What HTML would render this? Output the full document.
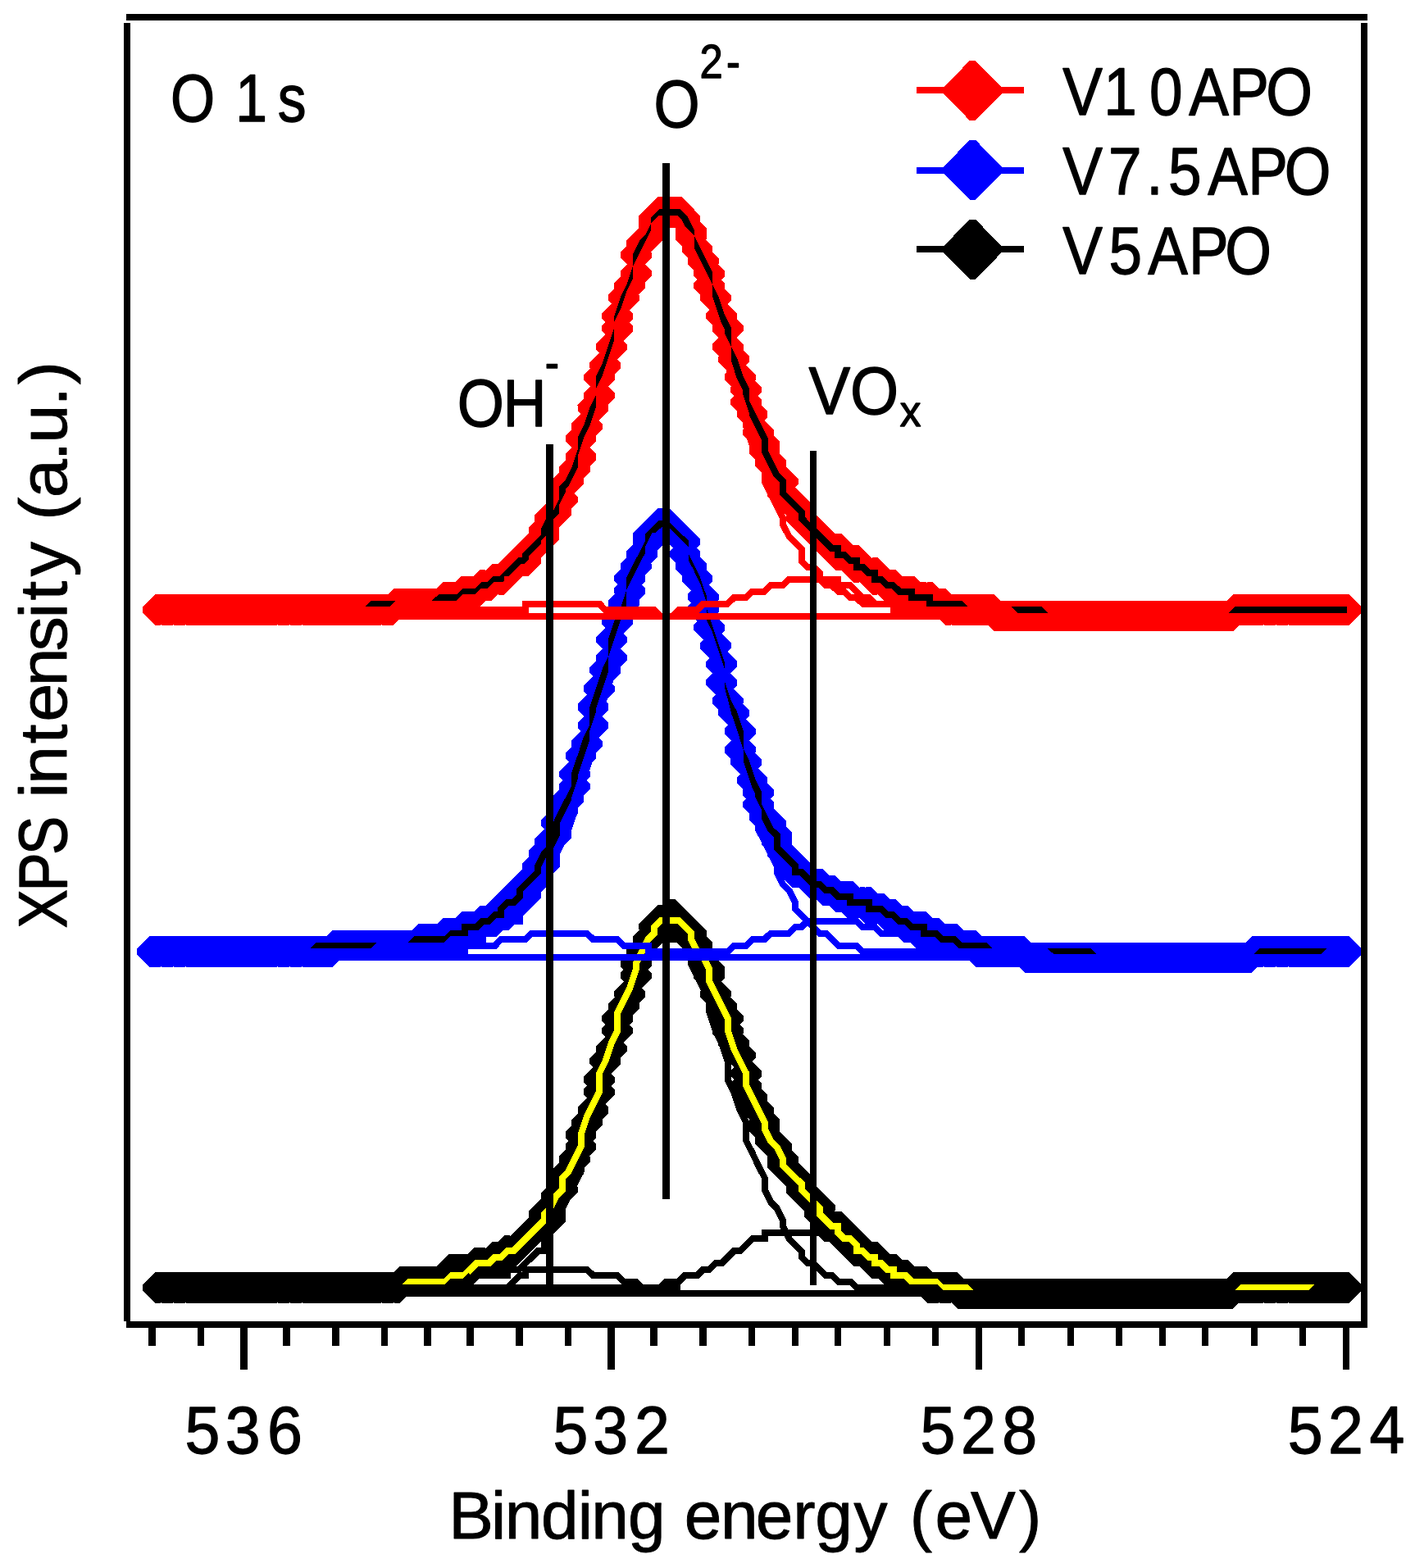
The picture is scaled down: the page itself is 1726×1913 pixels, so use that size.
<!DOCTYPE html>
<html lang="en"><head><meta charset="utf-8"><title>O 1s XPS spectra</title>
<style>html,body{margin:0;padding:0;background:#fff;width:1726px;height:1913px;overflow:hidden}svg{display:block}text{font-family:"Liberation Sans",sans-serif;fill:#000}</style></head>
<body>
<svg width="1726" height="1913" viewBox="0 0 1726 1913">
<rect width="1726" height="1913" fill="#fff"/>
<g shape-rendering="crispEdges">
<g>
<path d="M173.9 1567.7l15.6 -15.6h6.6l15.6 15.6v6.6l-15.6 15.6h-6.6l-15.6 -15.6zM181.4 1567.7l15.6 -15.6h6.6l15.6 15.6v6.6l-15.6 15.6h-6.6l-15.6 -15.6zM181.4 1567.7l15.6 -15.6h6.6l15.6 15.6v6.6l-15.6 15.6h-6.6l-15.6 -15.6zM188.9 1567.7l15.6 -15.6h6.6l15.6 15.6v6.6l-15.6 15.6h-6.6l-15.6 -15.6zM196.4 1567.7l15.6 -15.6h6.6l15.6 15.6v6.6l-15.6 15.6h-6.6l-15.6 -15.6zM203.8 1567.7l15.6 -15.6h6.6l15.6 15.6v6.6l-15.6 15.6h-6.6l-15.6 -15.6zM203.8 1567.7l15.6 -15.6h6.6l15.6 15.6v6.6l-15.6 15.6h-6.6l-15.6 -15.6zM211.3 1567.7l15.6 -15.6h6.6l15.6 15.6v6.6l-15.6 15.6h-6.6l-15.6 -15.6zM218.8 1567.7l15.6 -15.6h6.6l15.6 15.6v6.6l-15.6 15.6h-6.6l-15.6 -15.6zM226.2 1567.7l15.6 -15.6h6.6l15.6 15.6v6.6l-15.6 15.6h-6.6l-15.6 -15.6zM226.2 1567.7l15.6 -15.6h6.6l15.6 15.6v6.6l-15.6 15.6h-6.6l-15.6 -15.6zM233.7 1567.7l15.6 -15.6h6.6l15.6 15.6v6.6l-15.6 15.6h-6.6l-15.6 -15.6zM241.2 1567.7l15.6 -15.6h6.6l15.6 15.6v6.6l-15.6 15.6h-6.6l-15.6 -15.6zM248.7 1567.7l15.6 -15.6h6.6l15.6 15.6v6.6l-15.6 15.6h-6.6l-15.6 -15.6zM248.7 1567.7l15.6 -15.6h6.6l15.6 15.6v6.6l-15.6 15.6h-6.6l-15.6 -15.6zM256.1 1567.7l15.6 -15.6h6.6l15.6 15.6v6.6l-15.6 15.6h-6.6l-15.6 -15.6zM263.6 1567.7l15.6 -15.6h6.6l15.6 15.6v6.6l-15.6 15.6h-6.6l-15.6 -15.6zM271.1 1567.7l15.6 -15.6h6.6l15.6 15.6v6.6l-15.6 15.6h-6.6l-15.6 -15.6zM271.1 1567.7l15.6 -15.6h6.6l15.6 15.6v6.6l-15.6 15.6h-6.6l-15.6 -15.6zM278.6 1567.7l15.6 -15.6h6.6l15.6 15.6v6.6l-15.6 15.6h-6.6l-15.6 -15.6zM286 1567.7l15.6 -15.6h6.6l15.6 15.6v6.6l-15.6 15.6h-6.6l-15.6 -15.6zM286 1567.7l15.6 -15.6h6.6l15.6 15.6v6.6l-15.6 15.6h-6.6l-15.6 -15.6zM293.5 1567.7l15.6 -15.6h6.6l15.6 15.6v6.6l-15.6 15.6h-6.6l-15.6 -15.6zM301 1567.7l15.6 -15.6h6.6l15.6 15.6v6.6l-15.6 15.6h-6.6l-15.6 -15.6zM308.4 1567.7l15.6 -15.6h6.6l15.6 15.6v6.6l-15.6 15.6h-6.6l-15.6 -15.6zM308.4 1567.7l15.6 -15.6h6.6l15.6 15.6v6.6l-15.6 15.6h-6.6l-15.6 -15.6zM315.9 1567.7l15.6 -15.6h6.6l15.6 15.6v6.6l-15.6 15.6h-6.6l-15.6 -15.6zM323.4 1567.7l15.6 -15.6h6.6l15.6 15.6v6.6l-15.6 15.6h-6.6l-15.6 -15.6zM330.9 1567.7l15.6 -15.6h6.6l15.6 15.6v6.6l-15.6 15.6h-6.6l-15.6 -15.6zM330.9 1567.7l15.6 -15.6h6.6l15.6 15.6v6.6l-15.6 15.6h-6.6l-15.6 -15.6zM338.3 1567.7l15.6 -15.6h6.6l15.6 15.6v6.6l-15.6 15.6h-6.6l-15.6 -15.6zM345.8 1567.7l15.6 -15.6h6.6l15.6 15.6v6.6l-15.6 15.6h-6.6l-15.6 -15.6zM353.3 1567.7l15.6 -15.6h6.6l15.6 15.6v6.6l-15.6 15.6h-6.6l-15.6 -15.6zM353.3 1567.7l15.6 -15.6h6.6l15.6 15.6v6.6l-15.6 15.6h-6.6l-15.6 -15.6zM360.7 1567.7l15.6 -15.6h6.6l15.6 15.6v6.6l-15.6 15.6h-6.6l-15.6 -15.6zM368.2 1567.7l15.6 -15.6h6.6l15.6 15.6v6.6l-15.6 15.6h-6.6l-15.6 -15.6zM375.7 1567.7l15.6 -15.6h6.6l15.6 15.6v6.6l-15.6 15.6h-6.6l-15.6 -15.6zM375.7 1567.7l15.6 -15.6h6.6l15.6 15.6v6.6l-15.6 15.6h-6.6l-15.6 -15.6zM383.2 1567.7l15.6 -15.6h6.6l15.6 15.6v6.6l-15.6 15.6h-6.6l-15.6 -15.6zM390.6 1567.7l15.6 -15.6h6.6l15.6 15.6v6.6l-15.6 15.6h-6.6l-15.6 -15.6zM398.1 1567.7l15.6 -15.6h6.6l15.6 15.6v6.6l-15.6 15.6h-6.6l-15.6 -15.6zM398.1 1567.7l15.6 -15.6h6.6l15.6 15.6v6.6l-15.6 15.6h-6.6l-15.6 -15.6zM405.6 1567.7l15.6 -15.6h6.6l15.6 15.6v6.6l-15.6 15.6h-6.6l-15.6 -15.6zM413 1567.7l15.6 -15.6h6.6l15.6 15.6v6.6l-15.6 15.6h-6.6l-15.6 -15.6zM420.5 1567.7l15.6 -15.6h6.6l15.6 15.6v6.6l-15.6 15.6h-6.6l-15.6 -15.6zM420.5 1567.7l15.6 -15.6h6.6l15.6 15.6v6.6l-15.6 15.6h-6.6l-15.6 -15.6zM428 1567.7l15.6 -15.6h6.6l15.6 15.6v6.6l-15.6 15.6h-6.6l-15.6 -15.6zM435.5 1567.7l15.6 -15.6h6.6l15.6 15.6v6.6l-15.6 15.6h-6.6l-15.6 -15.6zM442.9 1567.7l15.6 -15.6h6.6l15.6 15.6v6.6l-15.6 15.6h-6.6l-15.6 -15.6zM442.9 1567.7l15.6 -15.6h6.6l15.6 15.6v6.6l-15.6 15.6h-6.6l-15.6 -15.6zM450.4 1567.7l15.6 -15.6h6.6l15.6 15.6v6.6l-15.6 15.6h-6.6l-15.6 -15.6zM457.9 1567.7l15.6 -15.6h6.6l15.6 15.6v6.6l-15.6 15.6h-6.6l-15.6 -15.6zM465.4 1567.7l15.6 -15.6h6.6l15.6 15.6v6.6l-15.6 15.6h-6.6l-15.6 -15.6zM465.4 1567.7l15.6 -15.6h6.6l15.6 15.6v6.6l-15.6 15.6h-6.6l-15.6 -15.6zM472.8 1560.2l15.6 -15.6h6.6l15.6 15.6v6.6l-15.6 15.6h-6.6l-15.6 -15.6zM480.3 1560.2l15.6 -15.6h6.6l15.6 15.6v6.6l-15.6 15.6h-6.6l-15.6 -15.6zM487.8 1560.2l15.6 -15.6h6.6l15.6 15.6v6.6l-15.6 15.6h-6.6l-15.6 -15.6zM487.8 1560.2l15.6 -15.6h6.6l15.6 15.6v6.6l-15.6 15.6h-6.6l-15.6 -15.6zM495.2 1560.2l15.6 -15.6h6.6l15.6 15.6v6.6l-15.6 15.6h-6.6l-15.6 -15.6zM502.7 1560.2l15.6 -15.6h6.6l15.6 15.6v6.6l-15.6 15.6h-6.6l-15.6 -15.6zM510.2 1560.2l15.6 -15.6h6.6l15.6 15.6v6.6l-15.6 15.6h-6.6l-15.6 -15.6zM510.2 1560.2l15.6 -15.6h6.6l15.6 15.6v6.6l-15.6 15.6h-6.6l-15.6 -15.6zM517.7 1560.2l15.6 -15.6h6.6l15.6 15.6v6.6l-15.6 15.6h-6.6l-15.6 -15.6zM525.1 1560.2l15.6 -15.6h6.6l15.6 15.6v6.6l-15.6 15.6h-6.6l-15.6 -15.6zM532.6 1552.7l15.6 -15.6h6.6l15.6 15.6v6.6l-15.6 15.6h-6.6l-15.6 -15.6zM532.6 1545.3l15.6 -15.6h6.6l15.6 15.6v6.6l-15.6 15.6h-6.6l-15.6 -15.6zM540.1 1545.3l15.6 -15.6h6.6l15.6 15.6v6.6l-15.6 15.6h-6.6l-15.6 -15.6zM547.5 1545.3l15.6 -15.6h6.6l15.6 15.6v6.6l-15.6 15.6h-6.6l-15.6 -15.6zM555 1545.3l15.6 -15.6h6.6l15.6 15.6v6.6l-15.6 15.6h-6.6l-15.6 -15.6zM555 1545.3l15.6 -15.6h6.6l15.6 15.6v6.6l-15.6 15.6h-6.6l-15.6 -15.6zM562.5 1537.8l15.6 -15.6h6.6l15.6 15.6v6.6l-15.6 15.6h-6.6l-15.6 -15.6zM570 1537.8l15.6 -15.6h6.6l15.6 15.6v6.6l-15.6 15.6h-6.6l-15.6 -15.6zM577.4 1537.8l15.6 -15.6h6.6l15.6 15.6v6.6l-15.6 15.6h-6.6l-15.6 -15.6zM577.4 1537.8l15.6 -15.6h6.6l15.6 15.6v6.6l-15.6 15.6h-6.6l-15.6 -15.6zM584.9 1530.4l15.6 -15.6h6.6l15.6 15.6v6.6l-15.6 15.6h-6.6l-15.6 -15.6zM592.4 1530.4l15.6 -15.6h6.6l15.6 15.6v6.6l-15.6 15.6h-6.6l-15.6 -15.6zM599.8 1522.9l15.6 -15.6h6.6l15.6 15.6v6.6l-15.6 15.6h-6.6l-15.6 -15.6zM599.8 1522.9l15.6 -15.6h6.6l15.6 15.6v6.6l-15.6 15.6h-6.6l-15.6 -15.6zM607.3 1522.9l15.6 -15.6h6.6l15.6 15.6v6.6l-15.6 15.6h-6.6l-15.6 -15.6zM614.8 1515.4l15.6 -15.6h6.6l15.6 15.6v6.6l-15.6 15.6h-6.6l-15.6 -15.6zM622.3 1508l15.6 -15.6h6.6l15.6 15.6v6.6l-15.6 15.6h-6.6l-15.6 -15.6zM622.3 1508l15.6 -15.6h6.6l15.6 15.6v6.6l-15.6 15.6h-6.6l-15.6 -15.6zM629.7 1500.5l15.6 -15.6h6.6l15.6 15.6v6.6l-15.6 15.6h-6.6l-15.6 -15.6zM637.2 1493.1l15.6 -15.6h6.6l15.6 15.6v6.6l-15.6 15.6h-6.6l-15.6 -15.6zM644.7 1485.6l15.6 -15.6h6.6l15.6 15.6v6.6l-15.6 15.6h-6.6l-15.6 -15.6zM644.7 1478.1l15.6 -15.6h6.6l15.6 15.6v6.6l-15.6 15.6h-6.6l-15.6 -15.6zM652.1 1470.7l15.6 -15.6h6.6l15.6 15.6v6.6l-15.6 15.6h-6.6l-15.6 -15.6zM659.6 1455.8l15.6 -15.6h6.6l15.6 15.6v6.6l-15.6 15.6h-6.6l-15.6 -15.6zM667.1 1448.3l15.6 -15.6h6.6l15.6 15.6v6.6l-15.6 15.6h-6.6l-15.6 -15.6zM667.1 1433.4l15.6 -15.6h6.6l15.6 15.6v6.6l-15.6 15.6h-6.6l-15.6 -15.6zM674.6 1425.9l15.6 -15.6h6.6l15.6 15.6v6.6l-15.6 15.6h-6.6l-15.6 -15.6zM682 1411l15.6 -15.6h6.6l15.6 15.6v6.6l-15.6 15.6h-6.6l-15.6 -15.6zM689.5 1396.1l15.6 -15.6h6.6l15.6 15.6v6.6l-15.6 15.6h-6.6l-15.6 -15.6zM689.5 1381.2l15.6 -15.6h6.6l15.6 15.6v6.6l-15.6 15.6h-6.6l-15.6 -15.6zM697 1366.2l15.6 -15.6h6.6l15.6 15.6v6.6l-15.6 15.6h-6.6l-15.6 -15.6zM704.5 1351.3l15.6 -15.6h6.6l15.6 15.6v6.6l-15.6 15.6h-6.6l-15.6 -15.6zM711.9 1328.9l15.6 -15.6h6.6l15.6 15.6v6.6l-15.6 15.6h-6.6l-15.6 -15.6zM711.9 1314l15.6 -15.6h6.6l15.6 15.6v6.6l-15.6 15.6h-6.6l-15.6 -15.6zM719.4 1291.6l15.6 -15.6h6.6l15.6 15.6v6.6l-15.6 15.6h-6.6l-15.6 -15.6zM726.9 1276.7l15.6 -15.6h6.6l15.6 15.6v6.6l-15.6 15.6h-6.6l-15.6 -15.6zM734.3 1254.3l15.6 -15.6h6.6l15.6 15.6v6.6l-15.6 15.6h-6.6l-15.6 -15.6zM734.3 1239.4l15.6 -15.6h6.6l15.6 15.6v6.6l-15.6 15.6h-6.6l-15.6 -15.6zM741.8 1224.5l15.6 -15.6h6.6l15.6 15.6v6.6l-15.6 15.6h-6.6l-15.6 -15.6zM749.3 1209.6l15.6 -15.6h6.6l15.6 15.6v6.6l-15.6 15.6h-6.6l-15.6 -15.6zM756.8 1187.2l15.6 -15.6h6.6l15.6 15.6v6.6l-15.6 15.6h-6.6l-15.6 -15.6zM756.8 1172.3l15.6 -15.6h6.6l15.6 15.6v6.6l-15.6 15.6h-6.6l-15.6 -15.6zM764.2 1157.4l15.6 -15.6h6.6l15.6 15.6v6.6l-15.6 15.6h-6.6l-15.6 -15.6zM771.7 1142.4l15.6 -15.6h6.6l15.6 15.6v6.6l-15.6 15.6h-6.6l-15.6 -15.6zM779.2 1135l15.6 -15.6h6.6l15.6 15.6v6.6l-15.6 15.6h-6.6l-15.6 -15.6zM779.2 1127.5l15.6 -15.6h6.6l15.6 15.6v6.6l-15.6 15.6h-6.6l-15.6 -15.6zM786.6 1120l15.6 -15.6h6.6l15.6 15.6v6.6l-15.6 15.6h-6.6l-15.6 -15.6zM794.1 1120l15.6 -15.6h6.6l15.6 15.6v6.6l-15.6 15.6h-6.6l-15.6 -15.6zM801.6 1112.6l15.6 -15.6h6.6l15.6 15.6v6.6l-15.6 15.6h-6.6l-15.6 -15.6zM801.6 1120l15.6 -15.6h6.6l15.6 15.6v6.6l-15.6 15.6h-6.6l-15.6 -15.6zM809.1 1120l15.6 -15.6h6.6l15.6 15.6v6.6l-15.6 15.6h-6.6l-15.6 -15.6zM816.5 1127.5l15.6 -15.6h6.6l15.6 15.6v6.6l-15.6 15.6h-6.6l-15.6 -15.6zM824 1135l15.6 -15.6h6.6l15.6 15.6v6.6l-15.6 15.6h-6.6l-15.6 -15.6zM824 1142.4l15.6 -15.6h6.6l15.6 15.6v6.6l-15.6 15.6h-6.6l-15.6 -15.6zM831.5 1149.9l15.6 -15.6h6.6l15.6 15.6v6.6l-15.6 15.6h-6.6l-15.6 -15.6zM838.9 1164.8l15.6 -15.6h6.6l15.6 15.6v6.6l-15.6 15.6h-6.6l-15.6 -15.6zM846.4 1179.7l15.6 -15.6h6.6l15.6 15.6v6.6l-15.6 15.6h-6.6l-15.6 -15.6zM846.4 1187.2l15.6 -15.6h6.6l15.6 15.6v6.6l-15.6 15.6h-6.6l-15.6 -15.6zM853.9 1209.6l15.6 -15.6h6.6l15.6 15.6v6.6l-15.6 15.6h-6.6l-15.6 -15.6zM861.4 1224.5l15.6 -15.6h6.6l15.6 15.6v6.6l-15.6 15.6h-6.6l-15.6 -15.6zM868.8 1239.4l15.6 -15.6h6.6l15.6 15.6v6.6l-15.6 15.6h-6.6l-15.6 -15.6zM868.8 1254.3l15.6 -15.6h6.6l15.6 15.6v6.6l-15.6 15.6h-6.6l-15.6 -15.6zM876.3 1269.3l15.6 -15.6h6.6l15.6 15.6v6.6l-15.6 15.6h-6.6l-15.6 -15.6zM883.8 1284.2l15.6 -15.6h6.6l15.6 15.6v6.6l-15.6 15.6h-6.6l-15.6 -15.6zM891.3 1306.5l15.6 -15.6h6.6l15.6 15.6v6.6l-15.6 15.6h-6.6l-15.6 -15.6zM891.3 1321.5l15.6 -15.6h6.6l15.6 15.6v6.6l-15.6 15.6h-6.6l-15.6 -15.6zM898.7 1336.4l15.6 -15.6h6.6l15.6 15.6v6.6l-15.6 15.6h-6.6l-15.6 -15.6zM906.2 1351.3l15.6 -15.6h6.6l15.6 15.6v6.6l-15.6 15.6h-6.6l-15.6 -15.6zM913.7 1366.2l15.6 -15.6h6.6l15.6 15.6v6.6l-15.6 15.6h-6.6l-15.6 -15.6zM913.7 1373.7l15.6 -15.6h6.6l15.6 15.6v6.6l-15.6 15.6h-6.6l-15.6 -15.6zM921.1 1388.6l15.6 -15.6h6.6l15.6 15.6v6.6l-15.6 15.6h-6.6l-15.6 -15.6zM928.6 1396.1l15.6 -15.6h6.6l15.6 15.6v6.6l-15.6 15.6h-6.6l-15.6 -15.6zM936.1 1411l15.6 -15.6h6.6l15.6 15.6v6.6l-15.6 15.6h-6.6l-15.6 -15.6zM936.1 1418.5l15.6 -15.6h6.6l15.6 15.6v6.6l-15.6 15.6h-6.6l-15.6 -15.6zM943.6 1425.9l15.6 -15.6h6.6l15.6 15.6v6.6l-15.6 15.6h-6.6l-15.6 -15.6zM951 1433.4l15.6 -15.6h6.6l15.6 15.6v6.6l-15.6 15.6h-6.6l-15.6 -15.6zM958.5 1440.8l15.6 -15.6h6.6l15.6 15.6v6.6l-15.6 15.6h-6.6l-15.6 -15.6zM958.5 1448.3l15.6 -15.6h6.6l15.6 15.6v6.6l-15.6 15.6h-6.6l-15.6 -15.6zM966 1455.8l15.6 -15.6h6.6l15.6 15.6v6.6l-15.6 15.6h-6.6l-15.6 -15.6zM973.4 1463.2l15.6 -15.6h6.6l15.6 15.6v6.6l-15.6 15.6h-6.6l-15.6 -15.6zM980.9 1470.7l15.6 -15.6h6.6l15.6 15.6v6.6l-15.6 15.6h-6.6l-15.6 -15.6zM980.9 1478.1l15.6 -15.6h6.6l15.6 15.6v6.6l-15.6 15.6h-6.6l-15.6 -15.6zM988.4 1485.6l15.6 -15.6h6.6l15.6 15.6v6.6l-15.6 15.6h-6.6l-15.6 -15.6zM995.9 1493.1l15.6 -15.6h6.6l15.6 15.6v6.6l-15.6 15.6h-6.6l-15.6 -15.6zM1003.3 1493.1l15.6 -15.6h6.6l15.6 15.6v6.6l-15.6 15.6h-6.6l-15.6 -15.6zM1003.3 1500.5l15.6 -15.6h6.6l15.6 15.6v6.6l-15.6 15.6h-6.6l-15.6 -15.6zM1010.8 1508l15.6 -15.6h6.6l15.6 15.6v6.6l-15.6 15.6h-6.6l-15.6 -15.6zM1018.3 1508l15.6 -15.6h6.6l15.6 15.6v6.6l-15.6 15.6h-6.6l-15.6 -15.6zM1025.8 1515.4l15.6 -15.6h6.6l15.6 15.6v6.6l-15.6 15.6h-6.6l-15.6 -15.6zM1025.8 1522.9l15.6 -15.6h6.6l15.6 15.6v6.6l-15.6 15.6h-6.6l-15.6 -15.6zM1033.2 1522.9l15.6 -15.6h6.6l15.6 15.6v6.6l-15.6 15.6h-6.6l-15.6 -15.6zM1040.7 1530.4l15.6 -15.6h6.6l15.6 15.6v6.6l-15.6 15.6h-6.6l-15.6 -15.6zM1048.2 1530.4l15.6 -15.6h6.6l15.6 15.6v6.6l-15.6 15.6h-6.6l-15.6 -15.6zM1048.2 1537.8l15.6 -15.6h6.6l15.6 15.6v6.6l-15.6 15.6h-6.6l-15.6 -15.6zM1055.6 1537.8l15.6 -15.6h6.6l15.6 15.6v6.6l-15.6 15.6h-6.6l-15.6 -15.6zM1063.1 1545.3l15.6 -15.6h6.6l15.6 15.6v6.6l-15.6 15.6h-6.6l-15.6 -15.6zM1070.6 1545.3l15.6 -15.6h6.6l15.6 15.6v6.6l-15.6 15.6h-6.6l-15.6 -15.6zM1070.6 1552.7l15.6 -15.6h6.6l15.6 15.6v6.6l-15.6 15.6h-6.6l-15.6 -15.6zM1078.1 1552.7l15.6 -15.6h6.6l15.6 15.6v6.6l-15.6 15.6h-6.6l-15.6 -15.6zM1085.5 1552.7l15.6 -15.6h6.6l15.6 15.6v6.6l-15.6 15.6h-6.6l-15.6 -15.6zM1093 1560.2l15.6 -15.6h6.6l15.6 15.6v6.6l-15.6 15.6h-6.6l-15.6 -15.6zM1093 1560.2l15.6 -15.6h6.6l15.6 15.6v6.6l-15.6 15.6h-6.6l-15.6 -15.6zM1100.5 1560.2l15.6 -15.6h6.6l15.6 15.6v6.6l-15.6 15.6h-6.6l-15.6 -15.6zM1107.9 1560.2l15.6 -15.6h6.6l15.6 15.6v6.6l-15.6 15.6h-6.6l-15.6 -15.6zM1115.4 1567.7l15.6 -15.6h6.6l15.6 15.6v6.6l-15.6 15.6h-6.6l-15.6 -15.6zM1115.4 1567.7l15.6 -15.6h6.6l15.6 15.6v6.6l-15.6 15.6h-6.6l-15.6 -15.6zM1122.9 1567.7l15.6 -15.6h6.6l15.6 15.6v6.6l-15.6 15.6h-6.6l-15.6 -15.6zM1130.4 1567.7l15.6 -15.6h6.6l15.6 15.6v6.6l-15.6 15.6h-6.6l-15.6 -15.6zM1137.8 1567.7l15.6 -15.6h6.6l15.6 15.6v6.6l-15.6 15.6h-6.6l-15.6 -15.6zM1137.8 1567.7l15.6 -15.6h6.6l15.6 15.6v6.6l-15.6 15.6h-6.6l-15.6 -15.6zM1145.3 1567.7l15.6 -15.6h6.6l15.6 15.6v6.6l-15.6 15.6h-6.6l-15.6 -15.6zM1152.8 1575.1l15.6 -15.6h6.6l15.6 15.6v6.6l-15.6 15.6h-6.6l-15.6 -15.6zM1160.2 1575.1l15.6 -15.6h6.6l15.6 15.6v6.6l-15.6 15.6h-6.6l-15.6 -15.6zM1160.2 1575.1l15.6 -15.6h6.6l15.6 15.6v6.6l-15.6 15.6h-6.6l-15.6 -15.6zM1167.7 1575.1l15.6 -15.6h6.6l15.6 15.6v6.6l-15.6 15.6h-6.6l-15.6 -15.6zM1175.2 1575.1l15.6 -15.6h6.6l15.6 15.6v6.6l-15.6 15.6h-6.6l-15.6 -15.6zM1182.7 1575.1l15.6 -15.6h6.6l15.6 15.6v6.6l-15.6 15.6h-6.6l-15.6 -15.6zM1182.7 1575.1l15.6 -15.6h6.6l15.6 15.6v6.6l-15.6 15.6h-6.6l-15.6 -15.6zM1190.1 1575.1l15.6 -15.6h6.6l15.6 15.6v6.6l-15.6 15.6h-6.6l-15.6 -15.6zM1197.6 1575.1l15.6 -15.6h6.6l15.6 15.6v6.6l-15.6 15.6h-6.6l-15.6 -15.6zM1205.1 1575.1l15.6 -15.6h6.6l15.6 15.6v6.6l-15.6 15.6h-6.6l-15.6 -15.6zM1205.1 1575.1l15.6 -15.6h6.6l15.6 15.6v6.6l-15.6 15.6h-6.6l-15.6 -15.6zM1212.5 1575.1l15.6 -15.6h6.6l15.6 15.6v6.6l-15.6 15.6h-6.6l-15.6 -15.6zM1220 1575.1l15.6 -15.6h6.6l15.6 15.6v6.6l-15.6 15.6h-6.6l-15.6 -15.6zM1227.5 1575.1l15.6 -15.6h6.6l15.6 15.6v6.6l-15.6 15.6h-6.6l-15.6 -15.6zM1227.5 1575.1l15.6 -15.6h6.6l15.6 15.6v6.6l-15.6 15.6h-6.6l-15.6 -15.6zM1235 1575.1l15.6 -15.6h6.6l15.6 15.6v6.6l-15.6 15.6h-6.6l-15.6 -15.6zM1242.4 1575.1l15.6 -15.6h6.6l15.6 15.6v6.6l-15.6 15.6h-6.6l-15.6 -15.6zM1249.9 1575.1l15.6 -15.6h6.6l15.6 15.6v6.6l-15.6 15.6h-6.6l-15.6 -15.6zM1249.9 1575.1l15.6 -15.6h6.6l15.6 15.6v6.6l-15.6 15.6h-6.6l-15.6 -15.6zM1257.4 1575.1l15.6 -15.6h6.6l15.6 15.6v6.6l-15.6 15.6h-6.6l-15.6 -15.6zM1264.9 1575.1l15.6 -15.6h6.6l15.6 15.6v6.6l-15.6 15.6h-6.6l-15.6 -15.6zM1272.3 1575.1l15.6 -15.6h6.6l15.6 15.6v6.6l-15.6 15.6h-6.6l-15.6 -15.6zM1272.3 1575.1l15.6 -15.6h6.6l15.6 15.6v6.6l-15.6 15.6h-6.6l-15.6 -15.6zM1279.8 1575.1l15.6 -15.6h6.6l15.6 15.6v6.6l-15.6 15.6h-6.6l-15.6 -15.6zM1287.3 1575.1l15.6 -15.6h6.6l15.6 15.6v6.6l-15.6 15.6h-6.6l-15.6 -15.6zM1294.7 1575.1l15.6 -15.6h6.6l15.6 15.6v6.6l-15.6 15.6h-6.6l-15.6 -15.6zM1294.7 1575.1l15.6 -15.6h6.6l15.6 15.6v6.6l-15.6 15.6h-6.6l-15.6 -15.6zM1302.2 1575.1l15.6 -15.6h6.6l15.6 15.6v6.6l-15.6 15.6h-6.6l-15.6 -15.6zM1309.7 1575.1l15.6 -15.6h6.6l15.6 15.6v6.6l-15.6 15.6h-6.6l-15.6 -15.6zM1317.2 1575.1l15.6 -15.6h6.6l15.6 15.6v6.6l-15.6 15.6h-6.6l-15.6 -15.6zM1317.2 1575.1l15.6 -15.6h6.6l15.6 15.6v6.6l-15.6 15.6h-6.6l-15.6 -15.6zM1324.6 1575.1l15.6 -15.6h6.6l15.6 15.6v6.6l-15.6 15.6h-6.6l-15.6 -15.6zM1332.1 1575.1l15.6 -15.6h6.6l15.6 15.6v6.6l-15.6 15.6h-6.6l-15.6 -15.6zM1339.6 1575.1l15.6 -15.6h6.6l15.6 15.6v6.6l-15.6 15.6h-6.6l-15.6 -15.6zM1339.6 1575.1l15.6 -15.6h6.6l15.6 15.6v6.6l-15.6 15.6h-6.6l-15.6 -15.6zM1347 1575.1l15.6 -15.6h6.6l15.6 15.6v6.6l-15.6 15.6h-6.6l-15.6 -15.6zM1354.5 1575.1l15.6 -15.6h6.6l15.6 15.6v6.6l-15.6 15.6h-6.6l-15.6 -15.6zM1362 1575.1l15.6 -15.6h6.6l15.6 15.6v6.6l-15.6 15.6h-6.6l-15.6 -15.6zM1362 1575.1l15.6 -15.6h6.6l15.6 15.6v6.6l-15.6 15.6h-6.6l-15.6 -15.6zM1369.5 1575.1l15.6 -15.6h6.6l15.6 15.6v6.6l-15.6 15.6h-6.6l-15.6 -15.6zM1376.9 1575.1l15.6 -15.6h6.6l15.6 15.6v6.6l-15.6 15.6h-6.6l-15.6 -15.6zM1384.4 1575.1l15.6 -15.6h6.6l15.6 15.6v6.6l-15.6 15.6h-6.6l-15.6 -15.6zM1384.4 1575.1l15.6 -15.6h6.6l15.6 15.6v6.6l-15.6 15.6h-6.6l-15.6 -15.6zM1391.9 1575.1l15.6 -15.6h6.6l15.6 15.6v6.6l-15.6 15.6h-6.6l-15.6 -15.6zM1399.3 1575.1l15.6 -15.6h6.6l15.6 15.6v6.6l-15.6 15.6h-6.6l-15.6 -15.6zM1406.8 1575.1l15.6 -15.6h6.6l15.6 15.6v6.6l-15.6 15.6h-6.6l-15.6 -15.6zM1406.8 1575.1l15.6 -15.6h6.6l15.6 15.6v6.6l-15.6 15.6h-6.6l-15.6 -15.6zM1414.3 1575.1l15.6 -15.6h6.6l15.6 15.6v6.6l-15.6 15.6h-6.6l-15.6 -15.6zM1421.8 1575.1l15.6 -15.6h6.6l15.6 15.6v6.6l-15.6 15.6h-6.6l-15.6 -15.6zM1429.2 1575.1l15.6 -15.6h6.6l15.6 15.6v6.6l-15.6 15.6h-6.6l-15.6 -15.6zM1429.2 1575.1l15.6 -15.6h6.6l15.6 15.6v6.6l-15.6 15.6h-6.6l-15.6 -15.6zM1436.7 1575.1l15.6 -15.6h6.6l15.6 15.6v6.6l-15.6 15.6h-6.6l-15.6 -15.6zM1444.2 1575.1l15.6 -15.6h6.6l15.6 15.6v6.6l-15.6 15.6h-6.6l-15.6 -15.6zM1451.7 1575.1l15.6 -15.6h6.6l15.6 15.6v6.6l-15.6 15.6h-6.6l-15.6 -15.6zM1451.7 1575.1l15.6 -15.6h6.6l15.6 15.6v6.6l-15.6 15.6h-6.6l-15.6 -15.6zM1459.1 1575.1l15.6 -15.6h6.6l15.6 15.6v6.6l-15.6 15.6h-6.6l-15.6 -15.6zM1466.6 1575.1l15.6 -15.6h6.6l15.6 15.6v6.6l-15.6 15.6h-6.6l-15.6 -15.6zM1474.1 1575.1l15.6 -15.6h6.6l15.6 15.6v6.6l-15.6 15.6h-6.6l-15.6 -15.6zM1474.1 1575.1l15.6 -15.6h6.6l15.6 15.6v6.6l-15.6 15.6h-6.6l-15.6 -15.6zM1481.5 1575.1l15.6 -15.6h6.6l15.6 15.6v6.6l-15.6 15.6h-6.6l-15.6 -15.6zM1489 1567.7l15.6 -15.6h6.6l15.6 15.6v6.6l-15.6 15.6h-6.6l-15.6 -15.6zM1496.5 1567.7l15.6 -15.6h6.6l15.6 15.6v6.6l-15.6 15.6h-6.6l-15.6 -15.6zM1496.5 1567.7l15.6 -15.6h6.6l15.6 15.6v6.6l-15.6 15.6h-6.6l-15.6 -15.6zM1504 1567.7l15.6 -15.6h6.6l15.6 15.6v6.6l-15.6 15.6h-6.6l-15.6 -15.6zM1511.4 1567.7l15.6 -15.6h6.6l15.6 15.6v6.6l-15.6 15.6h-6.6l-15.6 -15.6zM1518.9 1567.7l15.6 -15.6h6.6l15.6 15.6v6.6l-15.6 15.6h-6.6l-15.6 -15.6zM1518.9 1567.7l15.6 -15.6h6.6l15.6 15.6v6.6l-15.6 15.6h-6.6l-15.6 -15.6zM1526.4 1567.7l15.6 -15.6h6.6l15.6 15.6v6.6l-15.6 15.6h-6.6l-15.6 -15.6zM1533.8 1567.7l15.6 -15.6h6.6l15.6 15.6v6.6l-15.6 15.6h-6.6l-15.6 -15.6zM1541.3 1567.7l15.6 -15.6h6.6l15.6 15.6v6.6l-15.6 15.6h-6.6l-15.6 -15.6zM1541.3 1567.7l15.6 -15.6h6.6l15.6 15.6v6.6l-15.6 15.6h-6.6l-15.6 -15.6zM1548.8 1567.7l15.6 -15.6h6.6l15.6 15.6v6.6l-15.6 15.6h-6.6l-15.6 -15.6zM1556.3 1567.7l15.6 -15.6h6.6l15.6 15.6v6.6l-15.6 15.6h-6.6l-15.6 -15.6zM1563.7 1567.7l15.6 -15.6h6.6l15.6 15.6v6.6l-15.6 15.6h-6.6l-15.6 -15.6zM1563.7 1567.7l15.6 -15.6h6.6l15.6 15.6v6.6l-15.6 15.6h-6.6l-15.6 -15.6zM1571.2 1567.7l15.6 -15.6h6.6l15.6 15.6v6.6l-15.6 15.6h-6.6l-15.6 -15.6zM1578.7 1567.7l15.6 -15.6h6.6l15.6 15.6v6.6l-15.6 15.6h-6.6l-15.6 -15.6zM1586.2 1567.7l15.6 -15.6h6.6l15.6 15.6v6.6l-15.6 15.6h-6.6l-15.6 -15.6zM1586.2 1567.7l15.6 -15.6h6.6l15.6 15.6v6.6l-15.6 15.6h-6.6l-15.6 -15.6zM1593.6 1567.7l15.6 -15.6h6.6l15.6 15.6v6.6l-15.6 15.6h-6.6l-15.6 -15.6zM1601.1 1567.7l15.6 -15.6h6.6l15.6 15.6v6.6l-15.6 15.6h-6.6l-15.6 -15.6zM1608.6 1567.7l15.6 -15.6h6.6l15.6 15.6v6.6l-15.6 15.6h-6.6l-15.6 -15.6zM1608.6 1567.7l15.6 -15.6h6.6l15.6 15.6v6.6l-15.6 15.6h-6.6l-15.6 -15.6zM1616 1567.7l15.6 -15.6h6.6l15.6 15.6v6.6l-15.6 15.6h-6.6l-15.6 -15.6zM1623.5 1567.7l15.6 -15.6h6.6l15.6 15.6v6.6l-15.6 15.6h-6.6l-15.6 -15.6z" fill="#000"/>
<polyline points="192.9,1578.4 1642.5,1578.4" fill="none" stroke="#000" stroke-width="8" stroke-linejoin="miter" stroke-miterlimit="10"/>
<polyline points="540,1571 830,1571" fill="none" stroke="#000" stroke-width="8" stroke-linejoin="miter" stroke-miterlimit="10"/>
<polyline points="192.9,1571 544.1,1571 551.5,1563.5 566.5,1563.5 574,1556 618.8,1556 618.8,1548.6 633.7,1548.6 641.2,1541.1 648.7,1533.7 656.2,1526.2 663.6,1526.2 663.6,1511.3 671.1,1503.8 678.6,1496.4 686,1488.9 686,1474 693.5,1459 701,1444.1 708.5,1429.2 708.5,1414.3 715.9,1391.9 723.4,1377 730.9,1354.6 730.9,1339.7 738.3,1317.3 745.8,1294.9 753.3,1280 753.3,1257.6 760.8,1242.7 768.2,1220.3 775.7,1205.4 775.7,1190.5 783.2,1175.6 790.7,1168.1 798.1,1160.7 798.1,1153.2 805.6,1145.7 828,1145.7 835.5,1153.2 843,1168.1 843,1175.6 850.4,1190.5 857.9,1205.4 865.4,1220.3 865.4,1235.2 872.8,1257.6 880.3,1272.6 887.8,1294.9 887.8,1317.3 895.3,1332.2 902.7,1354.6 910.2,1369.5 910.2,1391.9 917.7,1406.8 925.1,1421.8 932.6,1436.7 932.6,1451.6 940.1,1466.5 947.6,1474 955,1488.9 955,1496.4 962.5,1511.3 970,1518.7 977.5,1526.2 977.5,1533.7 984.9,1541.1 992.4,1541.1 999.9,1548.6 1007.3,1556 1014.8,1556 1022.3,1563.5 1037.2,1563.5 1044.7,1571 1141.8,1571 1149.3,1578.4 1597.6,1578.4 1605.1,1571 1642.5,1571" fill="none" stroke="#000" stroke-width="8" stroke-linejoin="miter" stroke-miterlimit="10"/>
<polyline points="484.3,1578.4 603.9,1578.4 611.3,1571 618.8,1571 626.3,1563.5 633.7,1556 641.2,1556 641.2,1548.6 715.9,1548.6 723.4,1556 753.3,1556 760.8,1563.5 775.7,1563.5 783.2,1571 805.6,1571 813.1,1578.4 1156.8,1578.4" fill="none" stroke="#000" stroke-width="8" stroke-linejoin="miter" stroke-miterlimit="10"/>
<polyline points="484.3,1578.4 798.1,1578.4 805.6,1571 813.1,1563.5 828,1563.5 835.5,1556 850.4,1556 857.9,1548.6 865.4,1548.6 872.8,1541.1 880.3,1541.1 887.8,1533.7 895.3,1526.2 902.7,1526.2 910.2,1518.7 917.7,1511.3 932.6,1511.3 932.6,1503.8 999.9,1503.8 1007.3,1511.3 1014.8,1511.3 1022.3,1518.7 1029.8,1526.2 1037.2,1533.7 1044.7,1533.7 1052.2,1541.1 1059.6,1548.6 1067.1,1548.6 1074.6,1556 1089.5,1556 1089.5,1563.5 1104.5,1563.5 1111.9,1571 1134.4,1571 1141.8,1578.4 1156.8,1578.4" fill="none" stroke="#000" stroke-width="8" stroke-linejoin="miter" stroke-miterlimit="10"/>
<polyline points="192.9,1571 491.8,1571 499.2,1563.5 544.1,1563.5 551.5,1556 566.5,1556 574,1548.6 581.4,1541.1 596.4,1541.1 603.9,1533.7 611.3,1533.7 618.8,1526.2 626.3,1526.2 633.7,1518.7 641.2,1511.3 648.7,1503.8 656.2,1496.4 663.6,1488.9 663.6,1481.4 671.1,1474 678.6,1459 686,1451.6 686,1436.7 693.5,1429.2 701,1414.3 708.5,1399.4 708.5,1384.5 715.9,1362.1 723.4,1347.2 730.9,1332.2 730.9,1309.8 738.3,1294.9 745.8,1272.6 753.3,1257.6 753.3,1235.2 760.8,1220.3 768.2,1205.4 775.7,1183 775.7,1175.6 783.2,1160.7 790.7,1145.7 798.1,1138.3 798.1,1130.8 805.6,1123.3 828,1123.3 835.5,1130.8 843,1138.3 843,1145.7 850.4,1160.7 857.9,1168.1 865.4,1183 865.4,1198 872.8,1212.9 880.3,1227.8 887.8,1242.7 887.8,1257.6 895.3,1280 902.7,1294.9 910.2,1309.8 910.2,1324.8 917.7,1339.7 925.1,1354.6 932.6,1369.5 932.6,1377 940.1,1391.9 947.6,1399.4 955,1414.3 955,1421.8 962.5,1429.2 970,1436.7 977.5,1444.1 977.5,1451.6 984.9,1459 992.4,1466.5 999.9,1474 999.9,1481.4 1007.3,1488.9 1014.8,1496.4 1022.3,1496.4 1022.3,1503.8 1029.8,1511.3 1037.2,1511.3 1044.7,1518.7 1044.7,1526.2 1052.2,1526.2 1059.6,1533.7 1067.1,1533.7 1067.1,1541.1 1074.6,1541.1 1082.1,1548.6 1089.5,1548.6 1089.5,1556 1104.5,1556 1111.9,1563.5 1141.8,1563.5 1149.3,1571 1179.2,1571 1186.7,1578.4 1508,1578.4 1515.4,1571 1642.5,1571" fill="none" stroke="#ff0" stroke-width="8" stroke-linejoin="miter" stroke-miterlimit="10"/>
<polyline points="192.9,1571 544.1,1571 551.5,1563.5 566.5,1563.5 574,1556" fill="none" stroke="#000" stroke-width="8" stroke-linejoin="miter" stroke-miterlimit="10"/>
<polyline points="1097,1571 1141.8,1571 1149.3,1578.4 1597.6,1578.4 1605.1,1571 1642.5,1571" fill="none" stroke="#000" stroke-width="8" stroke-linejoin="miter" stroke-miterlimit="10"/>
<polyline points="192.9,1578.4 575,1578.4" fill="none" stroke="#000" stroke-width="8" stroke-linejoin="miter" stroke-miterlimit="10"/>
<polyline points="1095,1578.4 1642.5,1578.4" fill="none" stroke="#000" stroke-width="8" stroke-linejoin="miter" stroke-miterlimit="10"/>
</g>
<g>
<path d="M166.5 1157.7l15.6 -15.6h6.6l15.6 15.6v6.6l-15.6 15.6h-6.6l-15.6 -15.6zM173.9 1157.7l15.6 -15.6h6.6l15.6 15.6v6.6l-15.6 15.6h-6.6l-15.6 -15.6zM173.9 1157.7l15.6 -15.6h6.6l15.6 15.6v6.6l-15.6 15.6h-6.6l-15.6 -15.6zM181.4 1157.7l15.6 -15.6h6.6l15.6 15.6v6.6l-15.6 15.6h-6.6l-15.6 -15.6zM188.9 1157.7l15.6 -15.6h6.6l15.6 15.6v6.6l-15.6 15.6h-6.6l-15.6 -15.6zM196.4 1157.7l15.6 -15.6h6.6l15.6 15.6v6.6l-15.6 15.6h-6.6l-15.6 -15.6zM196.4 1157.7l15.6 -15.6h6.6l15.6 15.6v6.6l-15.6 15.6h-6.6l-15.6 -15.6zM203.8 1157.7l15.6 -15.6h6.6l15.6 15.6v6.6l-15.6 15.6h-6.6l-15.6 -15.6zM211.3 1157.7l15.6 -15.6h6.6l15.6 15.6v6.6l-15.6 15.6h-6.6l-15.6 -15.6zM218.8 1157.7l15.6 -15.6h6.6l15.6 15.6v6.6l-15.6 15.6h-6.6l-15.6 -15.6zM218.8 1157.7l15.6 -15.6h6.6l15.6 15.6v6.6l-15.6 15.6h-6.6l-15.6 -15.6zM226.2 1157.7l15.6 -15.6h6.6l15.6 15.6v6.6l-15.6 15.6h-6.6l-15.6 -15.6zM233.7 1157.7l15.6 -15.6h6.6l15.6 15.6v6.6l-15.6 15.6h-6.6l-15.6 -15.6zM241.2 1157.7l15.6 -15.6h6.6l15.6 15.6v6.6l-15.6 15.6h-6.6l-15.6 -15.6zM241.2 1157.7l15.6 -15.6h6.6l15.6 15.6v6.6l-15.6 15.6h-6.6l-15.6 -15.6zM248.7 1157.7l15.6 -15.6h6.6l15.6 15.6v6.6l-15.6 15.6h-6.6l-15.6 -15.6zM256.1 1157.7l15.6 -15.6h6.6l15.6 15.6v6.6l-15.6 15.6h-6.6l-15.6 -15.6zM263.6 1157.7l15.6 -15.6h6.6l15.6 15.6v6.6l-15.6 15.6h-6.6l-15.6 -15.6zM263.6 1157.7l15.6 -15.6h6.6l15.6 15.6v6.6l-15.6 15.6h-6.6l-15.6 -15.6zM271.1 1157.7l15.6 -15.6h6.6l15.6 15.6v6.6l-15.6 15.6h-6.6l-15.6 -15.6zM278.6 1157.7l15.6 -15.6h6.6l15.6 15.6v6.6l-15.6 15.6h-6.6l-15.6 -15.6zM278.6 1157.7l15.6 -15.6h6.6l15.6 15.6v6.6l-15.6 15.6h-6.6l-15.6 -15.6zM286 1157.7l15.6 -15.6h6.6l15.6 15.6v6.6l-15.6 15.6h-6.6l-15.6 -15.6zM293.5 1157.7l15.6 -15.6h6.6l15.6 15.6v6.6l-15.6 15.6h-6.6l-15.6 -15.6zM301 1157.7l15.6 -15.6h6.6l15.6 15.6v6.6l-15.6 15.6h-6.6l-15.6 -15.6zM301 1157.7l15.6 -15.6h6.6l15.6 15.6v6.6l-15.6 15.6h-6.6l-15.6 -15.6zM308.4 1157.7l15.6 -15.6h6.6l15.6 15.6v6.6l-15.6 15.6h-6.6l-15.6 -15.6zM315.9 1157.7l15.6 -15.6h6.6l15.6 15.6v6.6l-15.6 15.6h-6.6l-15.6 -15.6zM323.4 1157.7l15.6 -15.6h6.6l15.6 15.6v6.6l-15.6 15.6h-6.6l-15.6 -15.6zM323.4 1157.7l15.6 -15.6h6.6l15.6 15.6v6.6l-15.6 15.6h-6.6l-15.6 -15.6zM330.9 1157.7l15.6 -15.6h6.6l15.6 15.6v6.6l-15.6 15.6h-6.6l-15.6 -15.6zM338.3 1157.7l15.6 -15.6h6.6l15.6 15.6v6.6l-15.6 15.6h-6.6l-15.6 -15.6zM345.8 1157.7l15.6 -15.6h6.6l15.6 15.6v6.6l-15.6 15.6h-6.6l-15.6 -15.6zM345.8 1157.7l15.6 -15.6h6.6l15.6 15.6v6.6l-15.6 15.6h-6.6l-15.6 -15.6zM353.3 1157.7l15.6 -15.6h6.6l15.6 15.6v6.6l-15.6 15.6h-6.6l-15.6 -15.6zM360.7 1157.7l15.6 -15.6h6.6l15.6 15.6v6.6l-15.6 15.6h-6.6l-15.6 -15.6zM368.2 1157.7l15.6 -15.6h6.6l15.6 15.6v6.6l-15.6 15.6h-6.6l-15.6 -15.6zM368.2 1157.7l15.6 -15.6h6.6l15.6 15.6v6.6l-15.6 15.6h-6.6l-15.6 -15.6zM375.7 1157.7l15.6 -15.6h6.6l15.6 15.6v6.6l-15.6 15.6h-6.6l-15.6 -15.6zM383.2 1157.7l15.6 -15.6h6.6l15.6 15.6v6.6l-15.6 15.6h-6.6l-15.6 -15.6zM390.6 1150.2l15.6 -15.6h6.6l15.6 15.6v6.6l-15.6 15.6h-6.6l-15.6 -15.6zM390.6 1150.2l15.6 -15.6h6.6l15.6 15.6v6.6l-15.6 15.6h-6.6l-15.6 -15.6zM398.1 1150.2l15.6 -15.6h6.6l15.6 15.6v6.6l-15.6 15.6h-6.6l-15.6 -15.6zM405.6 1150.2l15.6 -15.6h6.6l15.6 15.6v6.6l-15.6 15.6h-6.6l-15.6 -15.6zM413 1150.2l15.6 -15.6h6.6l15.6 15.6v6.6l-15.6 15.6h-6.6l-15.6 -15.6zM413 1150.2l15.6 -15.6h6.6l15.6 15.6v6.6l-15.6 15.6h-6.6l-15.6 -15.6zM420.5 1150.2l15.6 -15.6h6.6l15.6 15.6v6.6l-15.6 15.6h-6.6l-15.6 -15.6zM428 1150.2l15.6 -15.6h6.6l15.6 15.6v6.6l-15.6 15.6h-6.6l-15.6 -15.6zM435.5 1150.2l15.6 -15.6h6.6l15.6 15.6v6.6l-15.6 15.6h-6.6l-15.6 -15.6zM435.5 1150.2l15.6 -15.6h6.6l15.6 15.6v6.6l-15.6 15.6h-6.6l-15.6 -15.6zM442.9 1150.2l15.6 -15.6h6.6l15.6 15.6v6.6l-15.6 15.6h-6.6l-15.6 -15.6zM450.4 1150.2l15.6 -15.6h6.6l15.6 15.6v6.6l-15.6 15.6h-6.6l-15.6 -15.6zM457.9 1150.2l15.6 -15.6h6.6l15.6 15.6v6.6l-15.6 15.6h-6.6l-15.6 -15.6zM457.9 1150.2l15.6 -15.6h6.6l15.6 15.6v6.6l-15.6 15.6h-6.6l-15.6 -15.6zM465.4 1150.2l15.6 -15.6h6.6l15.6 15.6v6.6l-15.6 15.6h-6.6l-15.6 -15.6zM472.8 1150.2l15.6 -15.6h6.6l15.6 15.6v6.6l-15.6 15.6h-6.6l-15.6 -15.6zM480.3 1150.2l15.6 -15.6h6.6l15.6 15.6v6.6l-15.6 15.6h-6.6l-15.6 -15.6zM480.3 1150.2l15.6 -15.6h6.6l15.6 15.6v6.6l-15.6 15.6h-6.6l-15.6 -15.6zM487.8 1150.2l15.6 -15.6h6.6l15.6 15.6v6.6l-15.6 15.6h-6.6l-15.6 -15.6zM495.2 1142.7l15.6 -15.6h6.6l15.6 15.6v6.6l-15.6 15.6h-6.6l-15.6 -15.6zM502.7 1142.7l15.6 -15.6h6.6l15.6 15.6v6.6l-15.6 15.6h-6.6l-15.6 -15.6zM502.7 1142.7l15.6 -15.6h6.6l15.6 15.6v6.6l-15.6 15.6h-6.6l-15.6 -15.6zM510.2 1142.7l15.6 -15.6h6.6l15.6 15.6v6.6l-15.6 15.6h-6.6l-15.6 -15.6zM517.7 1142.7l15.6 -15.6h6.6l15.6 15.6v6.6l-15.6 15.6h-6.6l-15.6 -15.6zM525.1 1142.7l15.6 -15.6h6.6l15.6 15.6v6.6l-15.6 15.6h-6.6l-15.6 -15.6zM525.1 1135.3l15.6 -15.6h6.6l15.6 15.6v6.6l-15.6 15.6h-6.6l-15.6 -15.6zM532.6 1135.3l15.6 -15.6h6.6l15.6 15.6v6.6l-15.6 15.6h-6.6l-15.6 -15.6zM540.1 1135.3l15.6 -15.6h6.6l15.6 15.6v6.6l-15.6 15.6h-6.6l-15.6 -15.6zM547.5 1135.3l15.6 -15.6h6.6l15.6 15.6v6.6l-15.6 15.6h-6.6l-15.6 -15.6zM547.5 1127.8l15.6 -15.6h6.6l15.6 15.6v6.6l-15.6 15.6h-6.6l-15.6 -15.6zM555 1127.8l15.6 -15.6h6.6l15.6 15.6v6.6l-15.6 15.6h-6.6l-15.6 -15.6zM562.5 1127.8l15.6 -15.6h6.6l15.6 15.6v6.6l-15.6 15.6h-6.6l-15.6 -15.6zM570 1120.4l15.6 -15.6h6.6l15.6 15.6v6.6l-15.6 15.6h-6.6l-15.6 -15.6zM570 1120.4l15.6 -15.6h6.6l15.6 15.6v6.6l-15.6 15.6h-6.6l-15.6 -15.6zM577.4 1120.4l15.6 -15.6h6.6l15.6 15.6v6.6l-15.6 15.6h-6.6l-15.6 -15.6zM584.9 1112.9l15.6 -15.6h6.6l15.6 15.6v6.6l-15.6 15.6h-6.6l-15.6 -15.6zM592.4 1112.9l15.6 -15.6h6.6l15.6 15.6v6.6l-15.6 15.6h-6.6l-15.6 -15.6zM592.4 1105.4l15.6 -15.6h6.6l15.6 15.6v6.6l-15.6 15.6h-6.6l-15.6 -15.6zM599.8 1098l15.6 -15.6h6.6l15.6 15.6v6.6l-15.6 15.6h-6.6l-15.6 -15.6zM607.3 1098l15.6 -15.6h6.6l15.6 15.6v6.6l-15.6 15.6h-6.6l-15.6 -15.6zM614.8 1090.5l15.6 -15.6h6.6l15.6 15.6v6.6l-15.6 15.6h-6.6l-15.6 -15.6zM614.8 1083.1l15.6 -15.6h6.6l15.6 15.6v6.6l-15.6 15.6h-6.6l-15.6 -15.6zM622.3 1075.6l15.6 -15.6h6.6l15.6 15.6v6.6l-15.6 15.6h-6.6l-15.6 -15.6zM629.7 1068.1l15.6 -15.6h6.6l15.6 15.6v6.6l-15.6 15.6h-6.6l-15.6 -15.6zM637.2 1060.7l15.6 -15.6h6.6l15.6 15.6v6.6l-15.6 15.6h-6.6l-15.6 -15.6zM637.2 1053.2l15.6 -15.6h6.6l15.6 15.6v6.6l-15.6 15.6h-6.6l-15.6 -15.6zM644.7 1038.3l15.6 -15.6h6.6l15.6 15.6v6.6l-15.6 15.6h-6.6l-15.6 -15.6zM652.1 1023.4l15.6 -15.6h6.6l15.6 15.6v6.6l-15.6 15.6h-6.6l-15.6 -15.6zM659.6 1015.9l15.6 -15.6h6.6l15.6 15.6v6.6l-15.6 15.6h-6.6l-15.6 -15.6zM659.6 1001l15.6 -15.6h6.6l15.6 15.6v6.6l-15.6 15.6h-6.6l-15.6 -15.6zM667.1 986.1l15.6 -15.6h6.6l15.6 15.6v6.6l-15.6 15.6h-6.6l-15.6 -15.6zM674.6 971.2l15.6 -15.6h6.6l15.6 15.6v6.6l-15.6 15.6h-6.6l-15.6 -15.6zM682 956.2l15.6 -15.6h6.6l15.6 15.6v6.6l-15.6 15.6h-6.6l-15.6 -15.6zM682 941.3l15.6 -15.6h6.6l15.6 15.6v6.6l-15.6 15.6h-6.6l-15.6 -15.6zM689.5 918.9l15.6 -15.6h6.6l15.6 15.6v6.6l-15.6 15.6h-6.6l-15.6 -15.6zM697 904l15.6 -15.6h6.6l15.6 15.6v6.6l-15.6 15.6h-6.6l-15.6 -15.6zM704.5 881.6l15.6 -15.6h6.6l15.6 15.6v6.6l-15.6 15.6h-6.6l-15.6 -15.6zM704.5 859.3l15.6 -15.6h6.6l15.6 15.6v6.6l-15.6 15.6h-6.6l-15.6 -15.6zM711.9 836.9l15.6 -15.6h6.6l15.6 15.6v6.6l-15.6 15.6h-6.6l-15.6 -15.6zM719.4 814.5l15.6 -15.6h6.6l15.6 15.6v6.6l-15.6 15.6h-6.6l-15.6 -15.6zM726.9 799.6l15.6 -15.6h6.6l15.6 15.6v6.6l-15.6 15.6h-6.6l-15.6 -15.6zM726.9 777.2l15.6 -15.6h6.6l15.6 15.6v6.6l-15.6 15.6h-6.6l-15.6 -15.6zM734.3 754.8l15.6 -15.6h6.6l15.6 15.6v6.6l-15.6 15.6h-6.6l-15.6 -15.6zM741.8 732.4l15.6 -15.6h6.6l15.6 15.6v6.6l-15.6 15.6h-6.6l-15.6 -15.6zM749.3 717.5l15.6 -15.6h6.6l15.6 15.6v6.6l-15.6 15.6h-6.6l-15.6 -15.6zM749.3 702.6l15.6 -15.6h6.6l15.6 15.6v6.6l-15.6 15.6h-6.6l-15.6 -15.6zM756.8 687.7l15.6 -15.6h6.6l15.6 15.6v6.6l-15.6 15.6h-6.6l-15.6 -15.6zM764.2 672.8l15.6 -15.6h6.6l15.6 15.6v6.6l-15.6 15.6h-6.6l-15.6 -15.6zM771.7 657.8l15.6 -15.6h6.6l15.6 15.6v6.6l-15.6 15.6h-6.6l-15.6 -15.6zM771.7 650.4l15.6 -15.6h6.6l15.6 15.6v6.6l-15.6 15.6h-6.6l-15.6 -15.6zM779.2 642.9l15.6 -15.6h6.6l15.6 15.6v6.6l-15.6 15.6h-6.6l-15.6 -15.6zM786.6 635.5l15.6 -15.6h6.6l15.6 15.6v6.6l-15.6 15.6h-6.6l-15.6 -15.6zM794.1 635.5l15.6 -15.6h6.6l15.6 15.6v6.6l-15.6 15.6h-6.6l-15.6 -15.6zM794.1 635.5l15.6 -15.6h6.6l15.6 15.6v6.6l-15.6 15.6h-6.6l-15.6 -15.6zM801.6 642.9l15.6 -15.6h6.6l15.6 15.6v6.6l-15.6 15.6h-6.6l-15.6 -15.6zM809.1 650.4l15.6 -15.6h6.6l15.6 15.6v6.6l-15.6 15.6h-6.6l-15.6 -15.6zM816.5 657.8l15.6 -15.6h6.6l15.6 15.6v6.6l-15.6 15.6h-6.6l-15.6 -15.6zM816.5 672.8l15.6 -15.6h6.6l15.6 15.6v6.6l-15.6 15.6h-6.6l-15.6 -15.6zM824 687.7l15.6 -15.6h6.6l15.6 15.6v6.6l-15.6 15.6h-6.6l-15.6 -15.6zM831.5 702.6l15.6 -15.6h6.6l15.6 15.6v6.6l-15.6 15.6h-6.6l-15.6 -15.6zM838.9 725l15.6 -15.6h6.6l15.6 15.6v6.6l-15.6 15.6h-6.6l-15.6 -15.6zM838.9 739.9l15.6 -15.6h6.6l15.6 15.6v6.6l-15.6 15.6h-6.6l-15.6 -15.6zM846.4 762.3l15.6 -15.6h6.6l15.6 15.6v6.6l-15.6 15.6h-6.6l-15.6 -15.6zM853.9 784.7l15.6 -15.6h6.6l15.6 15.6v6.6l-15.6 15.6h-6.6l-15.6 -15.6zM861.4 807l15.6 -15.6h6.6l15.6 15.6v6.6l-15.6 15.6h-6.6l-15.6 -15.6zM861.4 829.4l15.6 -15.6h6.6l15.6 15.6v6.6l-15.6 15.6h-6.6l-15.6 -15.6zM868.8 851.8l15.6 -15.6h6.6l15.6 15.6v6.6l-15.6 15.6h-6.6l-15.6 -15.6zM876.3 866.7l15.6 -15.6h6.6l15.6 15.6v6.6l-15.6 15.6h-6.6l-15.6 -15.6zM883.8 889.1l15.6 -15.6h6.6l15.6 15.6v6.6l-15.6 15.6h-6.6l-15.6 -15.6zM883.8 911.5l15.6 -15.6h6.6l15.6 15.6v6.6l-15.6 15.6h-6.6l-15.6 -15.6zM891.3 926.4l15.6 -15.6h6.6l15.6 15.6v6.6l-15.6 15.6h-6.6l-15.6 -15.6zM898.7 948.8l15.6 -15.6h6.6l15.6 15.6v6.6l-15.6 15.6h-6.6l-15.6 -15.6zM906.2 963.7l15.6 -15.6h6.6l15.6 15.6v6.6l-15.6 15.6h-6.6l-15.6 -15.6zM906.2 978.6l15.6 -15.6h6.6l15.6 15.6v6.6l-15.6 15.6h-6.6l-15.6 -15.6zM913.7 993.5l15.6 -15.6h6.6l15.6 15.6v6.6l-15.6 15.6h-6.6l-15.6 -15.6zM921.1 1001l15.6 -15.6h6.6l15.6 15.6v6.6l-15.6 15.6h-6.6l-15.6 -15.6zM928.6 1015.9l15.6 -15.6h6.6l15.6 15.6v6.6l-15.6 15.6h-6.6l-15.6 -15.6zM928.6 1023.4l15.6 -15.6h6.6l15.6 15.6v6.6l-15.6 15.6h-6.6l-15.6 -15.6zM936.1 1038.3l15.6 -15.6h6.6l15.6 15.6v6.6l-15.6 15.6h-6.6l-15.6 -15.6zM943.6 1045.8l15.6 -15.6h6.6l15.6 15.6v6.6l-15.6 15.6h-6.6l-15.6 -15.6zM951 1053.2l15.6 -15.6h6.6l15.6 15.6v6.6l-15.6 15.6h-6.6l-15.6 -15.6zM951 1060.7l15.6 -15.6h6.6l15.6 15.6v6.6l-15.6 15.6h-6.6l-15.6 -15.6zM958.5 1060.7l15.6 -15.6h6.6l15.6 15.6v6.6l-15.6 15.6h-6.6l-15.6 -15.6zM966 1068.1l15.6 -15.6h6.6l15.6 15.6v6.6l-15.6 15.6h-6.6l-15.6 -15.6zM973.4 1075.6l15.6 -15.6h6.6l15.6 15.6v6.6l-15.6 15.6h-6.6l-15.6 -15.6zM973.4 1075.6l15.6 -15.6h6.6l15.6 15.6v6.6l-15.6 15.6h-6.6l-15.6 -15.6zM980.9 1075.6l15.6 -15.6h6.6l15.6 15.6v6.6l-15.6 15.6h-6.6l-15.6 -15.6zM988.4 1083.1l15.6 -15.6h6.6l15.6 15.6v6.6l-15.6 15.6h-6.6l-15.6 -15.6zM995.9 1083.1l15.6 -15.6h6.6l15.6 15.6v6.6l-15.6 15.6h-6.6l-15.6 -15.6zM995.9 1083.1l15.6 -15.6h6.6l15.6 15.6v6.6l-15.6 15.6h-6.6l-15.6 -15.6zM1003.3 1090.5l15.6 -15.6h6.6l15.6 15.6v6.6l-15.6 15.6h-6.6l-15.6 -15.6zM1010.8 1090.5l15.6 -15.6h6.6l15.6 15.6v6.6l-15.6 15.6h-6.6l-15.6 -15.6zM1018.3 1090.5l15.6 -15.6h6.6l15.6 15.6v6.6l-15.6 15.6h-6.6l-15.6 -15.6zM1018.3 1098l15.6 -15.6h6.6l15.6 15.6v6.6l-15.6 15.6h-6.6l-15.6 -15.6zM1025.8 1098l15.6 -15.6h6.6l15.6 15.6v6.6l-15.6 15.6h-6.6l-15.6 -15.6zM1033.2 1098l15.6 -15.6h6.6l15.6 15.6v6.6l-15.6 15.6h-6.6l-15.6 -15.6zM1040.7 1098l15.6 -15.6h6.6l15.6 15.6v6.6l-15.6 15.6h-6.6l-15.6 -15.6zM1040.7 1105.4l15.6 -15.6h6.6l15.6 15.6v6.6l-15.6 15.6h-6.6l-15.6 -15.6zM1048.2 1105.4l15.6 -15.6h6.6l15.6 15.6v6.6l-15.6 15.6h-6.6l-15.6 -15.6zM1055.6 1105.4l15.6 -15.6h6.6l15.6 15.6v6.6l-15.6 15.6h-6.6l-15.6 -15.6zM1063.1 1112.9l15.6 -15.6h6.6l15.6 15.6v6.6l-15.6 15.6h-6.6l-15.6 -15.6zM1063.1 1112.9l15.6 -15.6h6.6l15.6 15.6v6.6l-15.6 15.6h-6.6l-15.6 -15.6zM1070.6 1112.9l15.6 -15.6h6.6l15.6 15.6v6.6l-15.6 15.6h-6.6l-15.6 -15.6zM1078.1 1120.4l15.6 -15.6h6.6l15.6 15.6v6.6l-15.6 15.6h-6.6l-15.6 -15.6zM1085.5 1120.4l15.6 -15.6h6.6l15.6 15.6v6.6l-15.6 15.6h-6.6l-15.6 -15.6zM1085.5 1120.4l15.6 -15.6h6.6l15.6 15.6v6.6l-15.6 15.6h-6.6l-15.6 -15.6zM1093 1127.8l15.6 -15.6h6.6l15.6 15.6v6.6l-15.6 15.6h-6.6l-15.6 -15.6zM1100.5 1127.8l15.6 -15.6h6.6l15.6 15.6v6.6l-15.6 15.6h-6.6l-15.6 -15.6zM1107.9 1127.8l15.6 -15.6h6.6l15.6 15.6v6.6l-15.6 15.6h-6.6l-15.6 -15.6zM1107.9 1135.3l15.6 -15.6h6.6l15.6 15.6v6.6l-15.6 15.6h-6.6l-15.6 -15.6zM1115.4 1135.3l15.6 -15.6h6.6l15.6 15.6v6.6l-15.6 15.6h-6.6l-15.6 -15.6zM1122.9 1135.3l15.6 -15.6h6.6l15.6 15.6v6.6l-15.6 15.6h-6.6l-15.6 -15.6zM1130.4 1142.7l15.6 -15.6h6.6l15.6 15.6v6.6l-15.6 15.6h-6.6l-15.6 -15.6zM1130.4 1142.7l15.6 -15.6h6.6l15.6 15.6v6.6l-15.6 15.6h-6.6l-15.6 -15.6zM1137.8 1142.7l15.6 -15.6h6.6l15.6 15.6v6.6l-15.6 15.6h-6.6l-15.6 -15.6zM1145.3 1142.7l15.6 -15.6h6.6l15.6 15.6v6.6l-15.6 15.6h-6.6l-15.6 -15.6zM1152.8 1150.2l15.6 -15.6h6.6l15.6 15.6v6.6l-15.6 15.6h-6.6l-15.6 -15.6zM1152.8 1150.2l15.6 -15.6h6.6l15.6 15.6v6.6l-15.6 15.6h-6.6l-15.6 -15.6zM1160.2 1150.2l15.6 -15.6h6.6l15.6 15.6v6.6l-15.6 15.6h-6.6l-15.6 -15.6zM1167.7 1150.2l15.6 -15.6h6.6l15.6 15.6v6.6l-15.6 15.6h-6.6l-15.6 -15.6zM1175.2 1157.7l15.6 -15.6h6.6l15.6 15.6v6.6l-15.6 15.6h-6.6l-15.6 -15.6zM1175.2 1157.7l15.6 -15.6h6.6l15.6 15.6v6.6l-15.6 15.6h-6.6l-15.6 -15.6zM1182.7 1157.7l15.6 -15.6h6.6l15.6 15.6v6.6l-15.6 15.6h-6.6l-15.6 -15.6zM1190.1 1157.7l15.6 -15.6h6.6l15.6 15.6v6.6l-15.6 15.6h-6.6l-15.6 -15.6zM1197.6 1157.7l15.6 -15.6h6.6l15.6 15.6v6.6l-15.6 15.6h-6.6l-15.6 -15.6zM1197.6 1157.7l15.6 -15.6h6.6l15.6 15.6v6.6l-15.6 15.6h-6.6l-15.6 -15.6zM1205.1 1157.7l15.6 -15.6h6.6l15.6 15.6v6.6l-15.6 15.6h-6.6l-15.6 -15.6zM1212.5 1157.7l15.6 -15.6h6.6l15.6 15.6v6.6l-15.6 15.6h-6.6l-15.6 -15.6zM1220 1157.7l15.6 -15.6h6.6l15.6 15.6v6.6l-15.6 15.6h-6.6l-15.6 -15.6zM1220 1157.7l15.6 -15.6h6.6l15.6 15.6v6.6l-15.6 15.6h-6.6l-15.6 -15.6zM1227.5 1157.7l15.6 -15.6h6.6l15.6 15.6v6.6l-15.6 15.6h-6.6l-15.6 -15.6zM1235 1165.1l15.6 -15.6h6.6l15.6 15.6v6.6l-15.6 15.6h-6.6l-15.6 -15.6zM1242.4 1165.1l15.6 -15.6h6.6l15.6 15.6v6.6l-15.6 15.6h-6.6l-15.6 -15.6zM1242.4 1165.1l15.6 -15.6h6.6l15.6 15.6v6.6l-15.6 15.6h-6.6l-15.6 -15.6zM1249.9 1165.1l15.6 -15.6h6.6l15.6 15.6v6.6l-15.6 15.6h-6.6l-15.6 -15.6zM1257.4 1165.1l15.6 -15.6h6.6l15.6 15.6v6.6l-15.6 15.6h-6.6l-15.6 -15.6zM1264.9 1165.1l15.6 -15.6h6.6l15.6 15.6v6.6l-15.6 15.6h-6.6l-15.6 -15.6zM1264.9 1165.1l15.6 -15.6h6.6l15.6 15.6v6.6l-15.6 15.6h-6.6l-15.6 -15.6zM1272.3 1165.1l15.6 -15.6h6.6l15.6 15.6v6.6l-15.6 15.6h-6.6l-15.6 -15.6zM1279.8 1165.1l15.6 -15.6h6.6l15.6 15.6v6.6l-15.6 15.6h-6.6l-15.6 -15.6zM1287.3 1165.1l15.6 -15.6h6.6l15.6 15.6v6.6l-15.6 15.6h-6.6l-15.6 -15.6zM1287.3 1165.1l15.6 -15.6h6.6l15.6 15.6v6.6l-15.6 15.6h-6.6l-15.6 -15.6zM1294.7 1165.1l15.6 -15.6h6.6l15.6 15.6v6.6l-15.6 15.6h-6.6l-15.6 -15.6zM1302.2 1165.1l15.6 -15.6h6.6l15.6 15.6v6.6l-15.6 15.6h-6.6l-15.6 -15.6zM1309.7 1165.1l15.6 -15.6h6.6l15.6 15.6v6.6l-15.6 15.6h-6.6l-15.6 -15.6zM1309.7 1165.1l15.6 -15.6h6.6l15.6 15.6v6.6l-15.6 15.6h-6.6l-15.6 -15.6zM1317.2 1165.1l15.6 -15.6h6.6l15.6 15.6v6.6l-15.6 15.6h-6.6l-15.6 -15.6zM1324.6 1165.1l15.6 -15.6h6.6l15.6 15.6v6.6l-15.6 15.6h-6.6l-15.6 -15.6zM1332.1 1165.1l15.6 -15.6h6.6l15.6 15.6v6.6l-15.6 15.6h-6.6l-15.6 -15.6zM1332.1 1165.1l15.6 -15.6h6.6l15.6 15.6v6.6l-15.6 15.6h-6.6l-15.6 -15.6zM1339.6 1165.1l15.6 -15.6h6.6l15.6 15.6v6.6l-15.6 15.6h-6.6l-15.6 -15.6zM1347 1165.1l15.6 -15.6h6.6l15.6 15.6v6.6l-15.6 15.6h-6.6l-15.6 -15.6zM1354.5 1165.1l15.6 -15.6h6.6l15.6 15.6v6.6l-15.6 15.6h-6.6l-15.6 -15.6zM1354.5 1165.1l15.6 -15.6h6.6l15.6 15.6v6.6l-15.6 15.6h-6.6l-15.6 -15.6zM1362 1165.1l15.6 -15.6h6.6l15.6 15.6v6.6l-15.6 15.6h-6.6l-15.6 -15.6zM1369.5 1165.1l15.6 -15.6h6.6l15.6 15.6v6.6l-15.6 15.6h-6.6l-15.6 -15.6zM1376.9 1165.1l15.6 -15.6h6.6l15.6 15.6v6.6l-15.6 15.6h-6.6l-15.6 -15.6zM1376.9 1165.1l15.6 -15.6h6.6l15.6 15.6v6.6l-15.6 15.6h-6.6l-15.6 -15.6zM1384.4 1165.1l15.6 -15.6h6.6l15.6 15.6v6.6l-15.6 15.6h-6.6l-15.6 -15.6zM1391.9 1165.1l15.6 -15.6h6.6l15.6 15.6v6.6l-15.6 15.6h-6.6l-15.6 -15.6zM1399.3 1165.1l15.6 -15.6h6.6l15.6 15.6v6.6l-15.6 15.6h-6.6l-15.6 -15.6zM1399.3 1165.1l15.6 -15.6h6.6l15.6 15.6v6.6l-15.6 15.6h-6.6l-15.6 -15.6zM1406.8 1165.1l15.6 -15.6h6.6l15.6 15.6v6.6l-15.6 15.6h-6.6l-15.6 -15.6zM1414.3 1165.1l15.6 -15.6h6.6l15.6 15.6v6.6l-15.6 15.6h-6.6l-15.6 -15.6zM1421.8 1165.1l15.6 -15.6h6.6l15.6 15.6v6.6l-15.6 15.6h-6.6l-15.6 -15.6zM1421.8 1165.1l15.6 -15.6h6.6l15.6 15.6v6.6l-15.6 15.6h-6.6l-15.6 -15.6zM1429.2 1165.1l15.6 -15.6h6.6l15.6 15.6v6.6l-15.6 15.6h-6.6l-15.6 -15.6zM1436.7 1165.1l15.6 -15.6h6.6l15.6 15.6v6.6l-15.6 15.6h-6.6l-15.6 -15.6zM1444.2 1165.1l15.6 -15.6h6.6l15.6 15.6v6.6l-15.6 15.6h-6.6l-15.6 -15.6zM1444.2 1165.1l15.6 -15.6h6.6l15.6 15.6v6.6l-15.6 15.6h-6.6l-15.6 -15.6zM1451.7 1165.1l15.6 -15.6h6.6l15.6 15.6v6.6l-15.6 15.6h-6.6l-15.6 -15.6zM1459.1 1165.1l15.6 -15.6h6.6l15.6 15.6v6.6l-15.6 15.6h-6.6l-15.6 -15.6zM1466.6 1165.1l15.6 -15.6h6.6l15.6 15.6v6.6l-15.6 15.6h-6.6l-15.6 -15.6zM1466.6 1165.1l15.6 -15.6h6.6l15.6 15.6v6.6l-15.6 15.6h-6.6l-15.6 -15.6zM1474.1 1165.1l15.6 -15.6h6.6l15.6 15.6v6.6l-15.6 15.6h-6.6l-15.6 -15.6zM1481.5 1165.1l15.6 -15.6h6.6l15.6 15.6v6.6l-15.6 15.6h-6.6l-15.6 -15.6zM1489 1165.1l15.6 -15.6h6.6l15.6 15.6v6.6l-15.6 15.6h-6.6l-15.6 -15.6zM1489 1165.1l15.6 -15.6h6.6l15.6 15.6v6.6l-15.6 15.6h-6.6l-15.6 -15.6zM1496.5 1165.1l15.6 -15.6h6.6l15.6 15.6v6.6l-15.6 15.6h-6.6l-15.6 -15.6zM1504 1165.1l15.6 -15.6h6.6l15.6 15.6v6.6l-15.6 15.6h-6.6l-15.6 -15.6zM1511.4 1157.7l15.6 -15.6h6.6l15.6 15.6v6.6l-15.6 15.6h-6.6l-15.6 -15.6zM1511.4 1157.7l15.6 -15.6h6.6l15.6 15.6v6.6l-15.6 15.6h-6.6l-15.6 -15.6zM1518.9 1157.7l15.6 -15.6h6.6l15.6 15.6v6.6l-15.6 15.6h-6.6l-15.6 -15.6zM1526.4 1157.7l15.6 -15.6h6.6l15.6 15.6v6.6l-15.6 15.6h-6.6l-15.6 -15.6zM1533.8 1157.7l15.6 -15.6h6.6l15.6 15.6v6.6l-15.6 15.6h-6.6l-15.6 -15.6zM1533.8 1157.7l15.6 -15.6h6.6l15.6 15.6v6.6l-15.6 15.6h-6.6l-15.6 -15.6zM1541.3 1157.7l15.6 -15.6h6.6l15.6 15.6v6.6l-15.6 15.6h-6.6l-15.6 -15.6zM1548.8 1157.7l15.6 -15.6h6.6l15.6 15.6v6.6l-15.6 15.6h-6.6l-15.6 -15.6zM1556.3 1157.7l15.6 -15.6h6.6l15.6 15.6v6.6l-15.6 15.6h-6.6l-15.6 -15.6zM1556.3 1157.7l15.6 -15.6h6.6l15.6 15.6v6.6l-15.6 15.6h-6.6l-15.6 -15.6zM1563.7 1157.7l15.6 -15.6h6.6l15.6 15.6v6.6l-15.6 15.6h-6.6l-15.6 -15.6zM1571.2 1157.7l15.6 -15.6h6.6l15.6 15.6v6.6l-15.6 15.6h-6.6l-15.6 -15.6zM1578.7 1157.7l15.6 -15.6h6.6l15.6 15.6v6.6l-15.6 15.6h-6.6l-15.6 -15.6zM1578.7 1157.7l15.6 -15.6h6.6l15.6 15.6v6.6l-15.6 15.6h-6.6l-15.6 -15.6zM1586.2 1157.7l15.6 -15.6h6.6l15.6 15.6v6.6l-15.6 15.6h-6.6l-15.6 -15.6zM1593.6 1157.7l15.6 -15.6h6.6l15.6 15.6v6.6l-15.6 15.6h-6.6l-15.6 -15.6zM1601.1 1157.7l15.6 -15.6h6.6l15.6 15.6v6.6l-15.6 15.6h-6.6l-15.6 -15.6zM1601.1 1157.7l15.6 -15.6h6.6l15.6 15.6v6.6l-15.6 15.6h-6.6l-15.6 -15.6zM1608.6 1157.7l15.6 -15.6h6.6l15.6 15.6v6.6l-15.6 15.6h-6.6l-15.6 -15.6zM1616 1157.7l15.6 -15.6h6.6l15.6 15.6v6.6l-15.6 15.6h-6.6l-15.6 -15.6zM1623.5 1157.7l15.6 -15.6h6.6l15.6 15.6v6.6l-15.6 15.6h-6.6l-15.6 -15.6z" fill="#00f"/>
<polyline points="185.4,1161 379.7,1161 387.2,1153.5 499.2,1153.5 506.7,1146 544.1,1146 551.5,1138.6 566.5,1138.6 566.5,1131.1 581.4,1131.1 588.9,1123.7 596.4,1123.7 603.9,1116.2 611.3,1116.2 611.3,1108.7 618.8,1101.3 626.3,1101.3 633.7,1093.8 633.7,1086.4 641.2,1078.9 648.7,1071.4 656.2,1064 656.2,1056.5 663.6,1041.6 671.1,1034.1 678.6,1019.2 678.6,1004.3 686,989.4 693.5,974.5 701,959.5 701,944.6 708.5,922.2 715.9,899.9 723.4,884.9 723.4,862.6 730.9,840.2 738.3,817.8 745.8,802.9 745.8,780.5 753.3,758.1 760.8,743.2 768.2,720.8 768.2,705.9 775.7,691 783.2,676.1 790.7,661.1 790.7,653.7 798.1,646.2 805.6,638.8 813.1,638.8 820.5,646.2 828,653.7 835.5,661.1 835.5,676.1 843,691 850.4,705.9 857.9,728.3 857.9,743.2 865.4,765.6 872.8,788 880.3,810.3 880.3,832.7 887.8,855.1 895.3,870 902.7,892.4 902.7,914.8 910.2,929.7 917.7,952.1 925.1,967 925.1,981.9 932.6,996.8 940.1,1011.8 947.6,1019.2 947.6,1034.1 955,1041.6 962.5,1049 970,1056.5 970,1064 977.5,1064 984.9,1071.4 992.4,1078.9 999.9,1078.9 1007.3,1086.4 1014.8,1086.4 1022.3,1093.8 1037.2,1093.8 1037.2,1101.3 1059.6,1101.3 1059.6,1108.7 1074.6,1108.7 1082.1,1116.2 1089.5,1116.2 1097,1123.7 1104.5,1123.7 1111.9,1131.1 1126.9,1131.1 1126.9,1138.6 1141.8,1138.6 1149.3,1146 1164.3,1146 1171.7,1153.5 1201.6,1153.5 1209.1,1161 1328.6,1161 1336.1,1168.4 1530.4,1168.4 1537.9,1161 1642.5,1161" fill="none" stroke="#000" stroke-width="8" stroke-linejoin="miter" stroke-miterlimit="10"/>
<polyline points="185.4,1168.4 1642.5,1168.4" fill="none" stroke="#00f" stroke-width="8" stroke-linejoin="miter" stroke-miterlimit="10"/>
<polyline points="185.4,1161 454.4,1161 461.9,1153.5 544.1,1153.5 551.5,1146 588.9,1146 588.9,1138.6 603.9,1138.6 611.3,1131.1 618.8,1131.1 626.3,1123.7 633.7,1123.7 633.7,1116.2 641.2,1108.7 648.7,1101.3 656.2,1093.8 656.2,1086.4 663.6,1078.9 671.1,1064 678.6,1056.5 678.6,1041.6 686,1026.7 693.5,1011.8 701,989.4 701,974.5 708.5,952.1 715.9,937.2 723.4,914.8 723.4,892.4 730.9,870 738.3,847.6 745.8,825.2 745.8,802.9 753.3,780.5 760.8,758.1 768.2,743.2 768.2,720.8 775.7,705.9 783.2,691 790.7,676.1 790.7,668.6 798.1,653.7 805.6,653.7 813.1,646.2 820.5,653.7 828,661.1 835.5,668.6 835.5,683.5 843,698.4 850.4,713.4 857.9,735.7 857.9,758.1 865.4,773 872.8,795.4 880.3,817.8 880.3,840.2 887.8,870 895.3,892.4 902.7,914.8 902.7,929.7 910.2,952.1 917.7,974.5 925.1,989.4 925.1,1011.8 932.6,1026.7 940.1,1041.6 947.6,1056.5 947.6,1064 955,1078.9 962.5,1086.4 970,1101.3 970,1108.7 977.5,1116.2 984.9,1123.7 992.4,1131.1 999.9,1138.6 1007.3,1138.6 1014.8,1146 1022.3,1153.5 1044.7,1153.5 1052.2,1161 1276.3,1161 1283.8,1168.4 1612.6,1168.4 1620,1161 1642.5,1161" fill="none" stroke="#00f" stroke-width="8" stroke-linejoin="miter" stroke-miterlimit="10"/>
<polyline points="417.1,1168.4 499.2,1168.4 506.7,1161 566.5,1161 566.5,1153.5 603.9,1153.5 611.3,1146 641.2,1146 648.7,1138.6 715.9,1138.6 723.4,1146 753.3,1146 760.8,1153.5 790.7,1153.5 790.7,1161 805.6,1161 813.1,1168.4 1224,1168.4" fill="none" stroke="#00f" stroke-width="8" stroke-linejoin="miter" stroke-miterlimit="10"/>
<polyline points="417.1,1168.4 805.6,1168.4 813.1,1161 887.8,1161 895.3,1153.5 910.2,1153.5 917.7,1146 932.6,1146 940.1,1138.6 962.5,1138.6 970,1131.1 977.5,1131.1 984.9,1123.7 1044.7,1123.7 1052.2,1131.1 1067.1,1131.1 1074.6,1138.6 1097,1138.6 1104.5,1146 1111.9,1146 1119.4,1153.5 1126.9,1153.5 1134.4,1161 1156.8,1161 1164.3,1168.4 1224,1168.4" fill="none" stroke="#00f" stroke-width="8" stroke-linejoin="miter" stroke-miterlimit="10"/>
</g>
<g>
<path d="M173.9 740.7l15.6 -15.6h6.6l15.6 15.6v6.6l-15.6 15.6h-6.6l-15.6 -15.6zM181.4 740.7l15.6 -15.6h6.6l15.6 15.6v6.6l-15.6 15.6h-6.6l-15.6 -15.6zM181.4 740.7l15.6 -15.6h6.6l15.6 15.6v6.6l-15.6 15.6h-6.6l-15.6 -15.6zM188.9 740.7l15.6 -15.6h6.6l15.6 15.6v6.6l-15.6 15.6h-6.6l-15.6 -15.6zM196.4 740.7l15.6 -15.6h6.6l15.6 15.6v6.6l-15.6 15.6h-6.6l-15.6 -15.6zM203.8 740.7l15.6 -15.6h6.6l15.6 15.6v6.6l-15.6 15.6h-6.6l-15.6 -15.6zM203.8 740.7l15.6 -15.6h6.6l15.6 15.6v6.6l-15.6 15.6h-6.6l-15.6 -15.6zM211.3 740.7l15.6 -15.6h6.6l15.6 15.6v6.6l-15.6 15.6h-6.6l-15.6 -15.6zM218.8 740.7l15.6 -15.6h6.6l15.6 15.6v6.6l-15.6 15.6h-6.6l-15.6 -15.6zM226.2 740.7l15.6 -15.6h6.6l15.6 15.6v6.6l-15.6 15.6h-6.6l-15.6 -15.6zM226.2 740.7l15.6 -15.6h6.6l15.6 15.6v6.6l-15.6 15.6h-6.6l-15.6 -15.6zM233.7 740.7l15.6 -15.6h6.6l15.6 15.6v6.6l-15.6 15.6h-6.6l-15.6 -15.6zM241.2 740.7l15.6 -15.6h6.6l15.6 15.6v6.6l-15.6 15.6h-6.6l-15.6 -15.6zM248.7 740.7l15.6 -15.6h6.6l15.6 15.6v6.6l-15.6 15.6h-6.6l-15.6 -15.6zM248.7 740.7l15.6 -15.6h6.6l15.6 15.6v6.6l-15.6 15.6h-6.6l-15.6 -15.6zM256.1 740.7l15.6 -15.6h6.6l15.6 15.6v6.6l-15.6 15.6h-6.6l-15.6 -15.6zM263.6 740.7l15.6 -15.6h6.6l15.6 15.6v6.6l-15.6 15.6h-6.6l-15.6 -15.6zM271.1 740.7l15.6 -15.6h6.6l15.6 15.6v6.6l-15.6 15.6h-6.6l-15.6 -15.6zM271.1 740.7l15.6 -15.6h6.6l15.6 15.6v6.6l-15.6 15.6h-6.6l-15.6 -15.6zM278.6 740.7l15.6 -15.6h6.6l15.6 15.6v6.6l-15.6 15.6h-6.6l-15.6 -15.6zM286 740.7l15.6 -15.6h6.6l15.6 15.6v6.6l-15.6 15.6h-6.6l-15.6 -15.6zM286 740.7l15.6 -15.6h6.6l15.6 15.6v6.6l-15.6 15.6h-6.6l-15.6 -15.6zM293.5 740.7l15.6 -15.6h6.6l15.6 15.6v6.6l-15.6 15.6h-6.6l-15.6 -15.6zM301 740.7l15.6 -15.6h6.6l15.6 15.6v6.6l-15.6 15.6h-6.6l-15.6 -15.6zM308.4 740.7l15.6 -15.6h6.6l15.6 15.6v6.6l-15.6 15.6h-6.6l-15.6 -15.6zM308.4 740.7l15.6 -15.6h6.6l15.6 15.6v6.6l-15.6 15.6h-6.6l-15.6 -15.6zM315.9 740.7l15.6 -15.6h6.6l15.6 15.6v6.6l-15.6 15.6h-6.6l-15.6 -15.6zM323.4 740.7l15.6 -15.6h6.6l15.6 15.6v6.6l-15.6 15.6h-6.6l-15.6 -15.6zM330.9 740.7l15.6 -15.6h6.6l15.6 15.6v6.6l-15.6 15.6h-6.6l-15.6 -15.6zM330.9 740.7l15.6 -15.6h6.6l15.6 15.6v6.6l-15.6 15.6h-6.6l-15.6 -15.6zM338.3 740.7l15.6 -15.6h6.6l15.6 15.6v6.6l-15.6 15.6h-6.6l-15.6 -15.6zM345.8 740.7l15.6 -15.6h6.6l15.6 15.6v6.6l-15.6 15.6h-6.6l-15.6 -15.6zM353.3 740.7l15.6 -15.6h6.6l15.6 15.6v6.6l-15.6 15.6h-6.6l-15.6 -15.6zM353.3 740.7l15.6 -15.6h6.6l15.6 15.6v6.6l-15.6 15.6h-6.6l-15.6 -15.6zM360.7 740.7l15.6 -15.6h6.6l15.6 15.6v6.6l-15.6 15.6h-6.6l-15.6 -15.6zM368.2 740.7l15.6 -15.6h6.6l15.6 15.6v6.6l-15.6 15.6h-6.6l-15.6 -15.6zM375.7 740.7l15.6 -15.6h6.6l15.6 15.6v6.6l-15.6 15.6h-6.6l-15.6 -15.6zM375.7 740.7l15.6 -15.6h6.6l15.6 15.6v6.6l-15.6 15.6h-6.6l-15.6 -15.6zM383.2 740.7l15.6 -15.6h6.6l15.6 15.6v6.6l-15.6 15.6h-6.6l-15.6 -15.6zM390.6 740.7l15.6 -15.6h6.6l15.6 15.6v6.6l-15.6 15.6h-6.6l-15.6 -15.6zM398.1 740.7l15.6 -15.6h6.6l15.6 15.6v6.6l-15.6 15.6h-6.6l-15.6 -15.6zM398.1 740.7l15.6 -15.6h6.6l15.6 15.6v6.6l-15.6 15.6h-6.6l-15.6 -15.6zM405.6 740.7l15.6 -15.6h6.6l15.6 15.6v6.6l-15.6 15.6h-6.6l-15.6 -15.6zM413 740.7l15.6 -15.6h6.6l15.6 15.6v6.6l-15.6 15.6h-6.6l-15.6 -15.6zM420.5 740.7l15.6 -15.6h6.6l15.6 15.6v6.6l-15.6 15.6h-6.6l-15.6 -15.6zM420.5 740.7l15.6 -15.6h6.6l15.6 15.6v6.6l-15.6 15.6h-6.6l-15.6 -15.6zM428 740.7l15.6 -15.6h6.6l15.6 15.6v6.6l-15.6 15.6h-6.6l-15.6 -15.6zM435.5 740.7l15.6 -15.6h6.6l15.6 15.6v6.6l-15.6 15.6h-6.6l-15.6 -15.6zM442.9 740.7l15.6 -15.6h6.6l15.6 15.6v6.6l-15.6 15.6h-6.6l-15.6 -15.6zM442.9 740.7l15.6 -15.6h6.6l15.6 15.6v6.6l-15.6 15.6h-6.6l-15.6 -15.6zM450.4 740.7l15.6 -15.6h6.6l15.6 15.6v6.6l-15.6 15.6h-6.6l-15.6 -15.6zM457.9 740.7l15.6 -15.6h6.6l15.6 15.6v6.6l-15.6 15.6h-6.6l-15.6 -15.6zM465.4 733.2l15.6 -15.6h6.6l15.6 15.6v6.6l-15.6 15.6h-6.6l-15.6 -15.6zM465.4 733.2l15.6 -15.6h6.6l15.6 15.6v6.6l-15.6 15.6h-6.6l-15.6 -15.6zM472.8 733.2l15.6 -15.6h6.6l15.6 15.6v6.6l-15.6 15.6h-6.6l-15.6 -15.6zM480.3 733.2l15.6 -15.6h6.6l15.6 15.6v6.6l-15.6 15.6h-6.6l-15.6 -15.6zM487.8 733.2l15.6 -15.6h6.6l15.6 15.6v6.6l-15.6 15.6h-6.6l-15.6 -15.6zM487.8 733.2l15.6 -15.6h6.6l15.6 15.6v6.6l-15.6 15.6h-6.6l-15.6 -15.6zM495.2 733.2l15.6 -15.6h6.6l15.6 15.6v6.6l-15.6 15.6h-6.6l-15.6 -15.6zM502.7 733.2l15.6 -15.6h6.6l15.6 15.6v6.6l-15.6 15.6h-6.6l-15.6 -15.6zM510.2 733.2l15.6 -15.6h6.6l15.6 15.6v6.6l-15.6 15.6h-6.6l-15.6 -15.6zM510.2 733.2l15.6 -15.6h6.6l15.6 15.6v6.6l-15.6 15.6h-6.6l-15.6 -15.6zM517.7 733.2l15.6 -15.6h6.6l15.6 15.6v6.6l-15.6 15.6h-6.6l-15.6 -15.6zM525.1 725.8l15.6 -15.6h6.6l15.6 15.6v6.6l-15.6 15.6h-6.6l-15.6 -15.6zM532.6 725.8l15.6 -15.6h6.6l15.6 15.6v6.6l-15.6 15.6h-6.6l-15.6 -15.6zM532.6 725.8l15.6 -15.6h6.6l15.6 15.6v6.6l-15.6 15.6h-6.6l-15.6 -15.6zM540.1 725.8l15.6 -15.6h6.6l15.6 15.6v6.6l-15.6 15.6h-6.6l-15.6 -15.6zM547.5 718.3l15.6 -15.6h6.6l15.6 15.6v6.6l-15.6 15.6h-6.6l-15.6 -15.6zM555 718.3l15.6 -15.6h6.6l15.6 15.6v6.6l-15.6 15.6h-6.6l-15.6 -15.6zM555 718.3l15.6 -15.6h6.6l15.6 15.6v6.6l-15.6 15.6h-6.6l-15.6 -15.6zM562.5 718.3l15.6 -15.6h6.6l15.6 15.6v6.6l-15.6 15.6h-6.6l-15.6 -15.6zM570 710.9l15.6 -15.6h6.6l15.6 15.6v6.6l-15.6 15.6h-6.6l-15.6 -15.6zM577.4 710.9l15.6 -15.6h6.6l15.6 15.6v6.6l-15.6 15.6h-6.6l-15.6 -15.6zM577.4 710.9l15.6 -15.6h6.6l15.6 15.6v6.6l-15.6 15.6h-6.6l-15.6 -15.6zM584.9 703.4l15.6 -15.6h6.6l15.6 15.6v6.6l-15.6 15.6h-6.6l-15.6 -15.6zM592.4 703.4l15.6 -15.6h6.6l15.6 15.6v6.6l-15.6 15.6h-6.6l-15.6 -15.6zM599.8 695.9l15.6 -15.6h6.6l15.6 15.6v6.6l-15.6 15.6h-6.6l-15.6 -15.6zM599.8 695.9l15.6 -15.6h6.6l15.6 15.6v6.6l-15.6 15.6h-6.6l-15.6 -15.6zM607.3 688.5l15.6 -15.6h6.6l15.6 15.6v6.6l-15.6 15.6h-6.6l-15.6 -15.6zM614.8 681l15.6 -15.6h6.6l15.6 15.6v6.6l-15.6 15.6h-6.6l-15.6 -15.6zM622.3 681l15.6 -15.6h6.6l15.6 15.6v6.6l-15.6 15.6h-6.6l-15.6 -15.6zM622.3 673.6l15.6 -15.6h6.6l15.6 15.6v6.6l-15.6 15.6h-6.6l-15.6 -15.6zM629.7 666.1l15.6 -15.6h6.6l15.6 15.6v6.6l-15.6 15.6h-6.6l-15.6 -15.6zM637.2 658.6l15.6 -15.6h6.6l15.6 15.6v6.6l-15.6 15.6h-6.6l-15.6 -15.6zM644.7 651.2l15.6 -15.6h6.6l15.6 15.6v6.6l-15.6 15.6h-6.6l-15.6 -15.6zM644.7 643.7l15.6 -15.6h6.6l15.6 15.6v6.6l-15.6 15.6h-6.6l-15.6 -15.6zM652.1 628.8l15.6 -15.6h6.6l15.6 15.6v6.6l-15.6 15.6h-6.6l-15.6 -15.6zM659.6 621.3l15.6 -15.6h6.6l15.6 15.6v6.6l-15.6 15.6h-6.6l-15.6 -15.6zM667.1 606.4l15.6 -15.6h6.6l15.6 15.6v6.6l-15.6 15.6h-6.6l-15.6 -15.6zM667.1 591.5l15.6 -15.6h6.6l15.6 15.6v6.6l-15.6 15.6h-6.6l-15.6 -15.6zM674.6 584l15.6 -15.6h6.6l15.6 15.6v6.6l-15.6 15.6h-6.6l-15.6 -15.6zM682 569.1l15.6 -15.6h6.6l15.6 15.6v6.6l-15.6 15.6h-6.6l-15.6 -15.6zM689.5 554.2l15.6 -15.6h6.6l15.6 15.6v6.6l-15.6 15.6h-6.6l-15.6 -15.6zM689.5 531.8l15.6 -15.6h6.6l15.6 15.6v6.6l-15.6 15.6h-6.6l-15.6 -15.6zM697 516.9l15.6 -15.6h6.6l15.6 15.6v6.6l-15.6 15.6h-6.6l-15.6 -15.6zM704.5 494.5l15.6 -15.6h6.6l15.6 15.6v6.6l-15.6 15.6h-6.6l-15.6 -15.6zM711.9 479.6l15.6 -15.6h6.6l15.6 15.6v6.6l-15.6 15.6h-6.6l-15.6 -15.6zM711.9 457.2l15.6 -15.6h6.6l15.6 15.6v6.6l-15.6 15.6h-6.6l-15.6 -15.6zM719.4 442.3l15.6 -15.6h6.6l15.6 15.6v6.6l-15.6 15.6h-6.6l-15.6 -15.6zM726.9 419.9l15.6 -15.6h6.6l15.6 15.6v6.6l-15.6 15.6h-6.6l-15.6 -15.6zM734.3 397.5l15.6 -15.6h6.6l15.6 15.6v6.6l-15.6 15.6h-6.6l-15.6 -15.6zM734.3 382.6l15.6 -15.6h6.6l15.6 15.6v6.6l-15.6 15.6h-6.6l-15.6 -15.6zM741.8 360.2l15.6 -15.6h6.6l15.6 15.6v6.6l-15.6 15.6h-6.6l-15.6 -15.6zM749.3 345.3l15.6 -15.6h6.6l15.6 15.6v6.6l-15.6 15.6h-6.6l-15.6 -15.6zM756.8 330.4l15.6 -15.6h6.6l15.6 15.6v6.6l-15.6 15.6h-6.6l-15.6 -15.6zM756.8 308l15.6 -15.6h6.6l15.6 15.6v6.6l-15.6 15.6h-6.6l-15.6 -15.6zM764.2 293.1l15.6 -15.6h6.6l15.6 15.6v6.6l-15.6 15.6h-6.6l-15.6 -15.6zM771.7 285.6l15.6 -15.6h6.6l15.6 15.6v6.6l-15.6 15.6h-6.6l-15.6 -15.6zM779.2 270.7l15.6 -15.6h6.6l15.6 15.6v6.6l-15.6 15.6h-6.6l-15.6 -15.6zM779.2 263.3l15.6 -15.6h6.6l15.6 15.6v6.6l-15.6 15.6h-6.6l-15.6 -15.6zM786.6 255.8l15.6 -15.6h6.6l15.6 15.6v6.6l-15.6 15.6h-6.6l-15.6 -15.6zM794.1 255.8l15.6 -15.6h6.6l15.6 15.6v6.6l-15.6 15.6h-6.6l-15.6 -15.6zM801.6 255.8l15.6 -15.6h6.6l15.6 15.6v6.6l-15.6 15.6h-6.6l-15.6 -15.6zM801.6 255.8l15.6 -15.6h6.6l15.6 15.6v6.6l-15.6 15.6h-6.6l-15.6 -15.6zM809.1 255.8l15.6 -15.6h6.6l15.6 15.6v6.6l-15.6 15.6h-6.6l-15.6 -15.6zM816.5 263.3l15.6 -15.6h6.6l15.6 15.6v6.6l-15.6 15.6h-6.6l-15.6 -15.6zM824 278.2l15.6 -15.6h6.6l15.6 15.6v6.6l-15.6 15.6h-6.6l-15.6 -15.6zM824 285.6l15.6 -15.6h6.6l15.6 15.6v6.6l-15.6 15.6h-6.6l-15.6 -15.6zM831.5 300.6l15.6 -15.6h6.6l15.6 15.6v6.6l-15.6 15.6h-6.6l-15.6 -15.6zM838.9 315.5l15.6 -15.6h6.6l15.6 15.6v6.6l-15.6 15.6h-6.6l-15.6 -15.6zM846.4 330.4l15.6 -15.6h6.6l15.6 15.6v6.6l-15.6 15.6h-6.6l-15.6 -15.6zM846.4 345.3l15.6 -15.6h6.6l15.6 15.6v6.6l-15.6 15.6h-6.6l-15.6 -15.6zM853.9 360.2l15.6 -15.6h6.6l15.6 15.6v6.6l-15.6 15.6h-6.6l-15.6 -15.6zM861.4 382.6l15.6 -15.6h6.6l15.6 15.6v6.6l-15.6 15.6h-6.6l-15.6 -15.6zM868.8 397.5l15.6 -15.6h6.6l15.6 15.6v6.6l-15.6 15.6h-6.6l-15.6 -15.6zM868.8 419.9l15.6 -15.6h6.6l15.6 15.6v6.6l-15.6 15.6h-6.6l-15.6 -15.6zM876.3 434.8l15.6 -15.6h6.6l15.6 15.6v6.6l-15.6 15.6h-6.6l-15.6 -15.6zM883.8 457.2l15.6 -15.6h6.6l15.6 15.6v6.6l-15.6 15.6h-6.6l-15.6 -15.6zM891.3 472.1l15.6 -15.6h6.6l15.6 15.6v6.6l-15.6 15.6h-6.6l-15.6 -15.6zM891.3 487.1l15.6 -15.6h6.6l15.6 15.6v6.6l-15.6 15.6h-6.6l-15.6 -15.6zM898.7 502l15.6 -15.6h6.6l15.6 15.6v6.6l-15.6 15.6h-6.6l-15.6 -15.6zM906.2 524.4l15.6 -15.6h6.6l15.6 15.6v6.6l-15.6 15.6h-6.6l-15.6 -15.6zM913.7 539.3l15.6 -15.6h6.6l15.6 15.6v6.6l-15.6 15.6h-6.6l-15.6 -15.6zM913.7 546.7l15.6 -15.6h6.6l15.6 15.6v6.6l-15.6 15.6h-6.6l-15.6 -15.6zM921.1 561.7l15.6 -15.6h6.6l15.6 15.6v6.6l-15.6 15.6h-6.6l-15.6 -15.6zM928.6 576.6l15.6 -15.6h6.6l15.6 15.6v6.6l-15.6 15.6h-6.6l-15.6 -15.6zM936.1 584l15.6 -15.6h6.6l15.6 15.6v6.6l-15.6 15.6h-6.6l-15.6 -15.6zM936.1 599l15.6 -15.6h6.6l15.6 15.6v6.6l-15.6 15.6h-6.6l-15.6 -15.6zM943.6 606.4l15.6 -15.6h6.6l15.6 15.6v6.6l-15.6 15.6h-6.6l-15.6 -15.6zM951 613.9l15.6 -15.6h6.6l15.6 15.6v6.6l-15.6 15.6h-6.6l-15.6 -15.6zM958.5 621.3l15.6 -15.6h6.6l15.6 15.6v6.6l-15.6 15.6h-6.6l-15.6 -15.6zM958.5 628.8l15.6 -15.6h6.6l15.6 15.6v6.6l-15.6 15.6h-6.6l-15.6 -15.6zM966 636.3l15.6 -15.6h6.6l15.6 15.6v6.6l-15.6 15.6h-6.6l-15.6 -15.6zM973.4 643.7l15.6 -15.6h6.6l15.6 15.6v6.6l-15.6 15.6h-6.6l-15.6 -15.6zM980.9 651.2l15.6 -15.6h6.6l15.6 15.6v6.6l-15.6 15.6h-6.6l-15.6 -15.6zM980.9 651.2l15.6 -15.6h6.6l15.6 15.6v6.6l-15.6 15.6h-6.6l-15.6 -15.6zM988.4 658.6l15.6 -15.6h6.6l15.6 15.6v6.6l-15.6 15.6h-6.6l-15.6 -15.6zM995.9 666.1l15.6 -15.6h6.6l15.6 15.6v6.6l-15.6 15.6h-6.6l-15.6 -15.6zM1003.3 666.1l15.6 -15.6h6.6l15.6 15.6v6.6l-15.6 15.6h-6.6l-15.6 -15.6zM1003.3 673.6l15.6 -15.6h6.6l15.6 15.6v6.6l-15.6 15.6h-6.6l-15.6 -15.6zM1010.8 673.6l15.6 -15.6h6.6l15.6 15.6v6.6l-15.6 15.6h-6.6l-15.6 -15.6zM1018.3 681l15.6 -15.6h6.6l15.6 15.6v6.6l-15.6 15.6h-6.6l-15.6 -15.6zM1025.8 681l15.6 -15.6h6.6l15.6 15.6v6.6l-15.6 15.6h-6.6l-15.6 -15.6zM1025.8 688.5l15.6 -15.6h6.6l15.6 15.6v6.6l-15.6 15.6h-6.6l-15.6 -15.6zM1033.2 688.5l15.6 -15.6h6.6l15.6 15.6v6.6l-15.6 15.6h-6.6l-15.6 -15.6zM1040.7 695.9l15.6 -15.6h6.6l15.6 15.6v6.6l-15.6 15.6h-6.6l-15.6 -15.6zM1048.2 695.9l15.6 -15.6h6.6l15.6 15.6v6.6l-15.6 15.6h-6.6l-15.6 -15.6zM1048.2 703.4l15.6 -15.6h6.6l15.6 15.6v6.6l-15.6 15.6h-6.6l-15.6 -15.6zM1055.6 703.4l15.6 -15.6h6.6l15.6 15.6v6.6l-15.6 15.6h-6.6l-15.6 -15.6zM1063.1 710.9l15.6 -15.6h6.6l15.6 15.6v6.6l-15.6 15.6h-6.6l-15.6 -15.6zM1070.6 710.9l15.6 -15.6h6.6l15.6 15.6v6.6l-15.6 15.6h-6.6l-15.6 -15.6zM1070.6 710.9l15.6 -15.6h6.6l15.6 15.6v6.6l-15.6 15.6h-6.6l-15.6 -15.6zM1078.1 718.3l15.6 -15.6h6.6l15.6 15.6v6.6l-15.6 15.6h-6.6l-15.6 -15.6zM1085.5 718.3l15.6 -15.6h6.6l15.6 15.6v6.6l-15.6 15.6h-6.6l-15.6 -15.6zM1093 718.3l15.6 -15.6h6.6l15.6 15.6v6.6l-15.6 15.6h-6.6l-15.6 -15.6zM1093 725.8l15.6 -15.6h6.6l15.6 15.6v6.6l-15.6 15.6h-6.6l-15.6 -15.6zM1100.5 725.8l15.6 -15.6h6.6l15.6 15.6v6.6l-15.6 15.6h-6.6l-15.6 -15.6zM1107.9 725.8l15.6 -15.6h6.6l15.6 15.6v6.6l-15.6 15.6h-6.6l-15.6 -15.6zM1115.4 725.8l15.6 -15.6h6.6l15.6 15.6v6.6l-15.6 15.6h-6.6l-15.6 -15.6zM1115.4 733.2l15.6 -15.6h6.6l15.6 15.6v6.6l-15.6 15.6h-6.6l-15.6 -15.6zM1122.9 733.2l15.6 -15.6h6.6l15.6 15.6v6.6l-15.6 15.6h-6.6l-15.6 -15.6zM1130.4 733.2l15.6 -15.6h6.6l15.6 15.6v6.6l-15.6 15.6h-6.6l-15.6 -15.6zM1137.8 740.7l15.6 -15.6h6.6l15.6 15.6v6.6l-15.6 15.6h-6.6l-15.6 -15.6zM1137.8 740.7l15.6 -15.6h6.6l15.6 15.6v6.6l-15.6 15.6h-6.6l-15.6 -15.6zM1145.3 740.7l15.6 -15.6h6.6l15.6 15.6v6.6l-15.6 15.6h-6.6l-15.6 -15.6zM1152.8 740.7l15.6 -15.6h6.6l15.6 15.6v6.6l-15.6 15.6h-6.6l-15.6 -15.6zM1160.2 740.7l15.6 -15.6h6.6l15.6 15.6v6.6l-15.6 15.6h-6.6l-15.6 -15.6zM1160.2 740.7l15.6 -15.6h6.6l15.6 15.6v6.6l-15.6 15.6h-6.6l-15.6 -15.6zM1167.7 740.7l15.6 -15.6h6.6l15.6 15.6v6.6l-15.6 15.6h-6.6l-15.6 -15.6zM1175.2 740.7l15.6 -15.6h6.6l15.6 15.6v6.6l-15.6 15.6h-6.6l-15.6 -15.6zM1182.7 740.7l15.6 -15.6h6.6l15.6 15.6v6.6l-15.6 15.6h-6.6l-15.6 -15.6zM1182.7 740.7l15.6 -15.6h6.6l15.6 15.6v6.6l-15.6 15.6h-6.6l-15.6 -15.6zM1190.1 740.7l15.6 -15.6h6.6l15.6 15.6v6.6l-15.6 15.6h-6.6l-15.6 -15.6zM1197.6 748.2l15.6 -15.6h6.6l15.6 15.6v6.6l-15.6 15.6h-6.6l-15.6 -15.6zM1205.1 748.2l15.6 -15.6h6.6l15.6 15.6v6.6l-15.6 15.6h-6.6l-15.6 -15.6zM1205.1 748.2l15.6 -15.6h6.6l15.6 15.6v6.6l-15.6 15.6h-6.6l-15.6 -15.6zM1212.5 748.2l15.6 -15.6h6.6l15.6 15.6v6.6l-15.6 15.6h-6.6l-15.6 -15.6zM1220 748.2l15.6 -15.6h6.6l15.6 15.6v6.6l-15.6 15.6h-6.6l-15.6 -15.6zM1227.5 748.2l15.6 -15.6h6.6l15.6 15.6v6.6l-15.6 15.6h-6.6l-15.6 -15.6zM1227.5 748.2l15.6 -15.6h6.6l15.6 15.6v6.6l-15.6 15.6h-6.6l-15.6 -15.6zM1235 748.2l15.6 -15.6h6.6l15.6 15.6v6.6l-15.6 15.6h-6.6l-15.6 -15.6zM1242.4 748.2l15.6 -15.6h6.6l15.6 15.6v6.6l-15.6 15.6h-6.6l-15.6 -15.6zM1249.9 748.2l15.6 -15.6h6.6l15.6 15.6v6.6l-15.6 15.6h-6.6l-15.6 -15.6zM1249.9 748.2l15.6 -15.6h6.6l15.6 15.6v6.6l-15.6 15.6h-6.6l-15.6 -15.6zM1257.4 748.2l15.6 -15.6h6.6l15.6 15.6v6.6l-15.6 15.6h-6.6l-15.6 -15.6zM1264.9 748.2l15.6 -15.6h6.6l15.6 15.6v6.6l-15.6 15.6h-6.6l-15.6 -15.6zM1272.3 748.2l15.6 -15.6h6.6l15.6 15.6v6.6l-15.6 15.6h-6.6l-15.6 -15.6zM1272.3 748.2l15.6 -15.6h6.6l15.6 15.6v6.6l-15.6 15.6h-6.6l-15.6 -15.6zM1279.8 748.2l15.6 -15.6h6.6l15.6 15.6v6.6l-15.6 15.6h-6.6l-15.6 -15.6zM1287.3 748.2l15.6 -15.6h6.6l15.6 15.6v6.6l-15.6 15.6h-6.6l-15.6 -15.6zM1294.7 748.2l15.6 -15.6h6.6l15.6 15.6v6.6l-15.6 15.6h-6.6l-15.6 -15.6zM1294.7 748.2l15.6 -15.6h6.6l15.6 15.6v6.6l-15.6 15.6h-6.6l-15.6 -15.6zM1302.2 748.2l15.6 -15.6h6.6l15.6 15.6v6.6l-15.6 15.6h-6.6l-15.6 -15.6zM1309.7 748.2l15.6 -15.6h6.6l15.6 15.6v6.6l-15.6 15.6h-6.6l-15.6 -15.6zM1317.2 748.2l15.6 -15.6h6.6l15.6 15.6v6.6l-15.6 15.6h-6.6l-15.6 -15.6zM1317.2 748.2l15.6 -15.6h6.6l15.6 15.6v6.6l-15.6 15.6h-6.6l-15.6 -15.6zM1324.6 748.2l15.6 -15.6h6.6l15.6 15.6v6.6l-15.6 15.6h-6.6l-15.6 -15.6zM1332.1 748.2l15.6 -15.6h6.6l15.6 15.6v6.6l-15.6 15.6h-6.6l-15.6 -15.6zM1339.6 748.2l15.6 -15.6h6.6l15.6 15.6v6.6l-15.6 15.6h-6.6l-15.6 -15.6zM1339.6 748.2l15.6 -15.6h6.6l15.6 15.6v6.6l-15.6 15.6h-6.6l-15.6 -15.6zM1347 748.2l15.6 -15.6h6.6l15.6 15.6v6.6l-15.6 15.6h-6.6l-15.6 -15.6zM1354.5 748.2l15.6 -15.6h6.6l15.6 15.6v6.6l-15.6 15.6h-6.6l-15.6 -15.6zM1362 748.2l15.6 -15.6h6.6l15.6 15.6v6.6l-15.6 15.6h-6.6l-15.6 -15.6zM1362 748.2l15.6 -15.6h6.6l15.6 15.6v6.6l-15.6 15.6h-6.6l-15.6 -15.6zM1369.5 748.2l15.6 -15.6h6.6l15.6 15.6v6.6l-15.6 15.6h-6.6l-15.6 -15.6zM1376.9 748.2l15.6 -15.6h6.6l15.6 15.6v6.6l-15.6 15.6h-6.6l-15.6 -15.6zM1384.4 748.2l15.6 -15.6h6.6l15.6 15.6v6.6l-15.6 15.6h-6.6l-15.6 -15.6zM1384.4 748.2l15.6 -15.6h6.6l15.6 15.6v6.6l-15.6 15.6h-6.6l-15.6 -15.6zM1391.9 748.2l15.6 -15.6h6.6l15.6 15.6v6.6l-15.6 15.6h-6.6l-15.6 -15.6zM1399.3 748.2l15.6 -15.6h6.6l15.6 15.6v6.6l-15.6 15.6h-6.6l-15.6 -15.6zM1406.8 748.2l15.6 -15.6h6.6l15.6 15.6v6.6l-15.6 15.6h-6.6l-15.6 -15.6zM1406.8 748.2l15.6 -15.6h6.6l15.6 15.6v6.6l-15.6 15.6h-6.6l-15.6 -15.6zM1414.3 748.2l15.6 -15.6h6.6l15.6 15.6v6.6l-15.6 15.6h-6.6l-15.6 -15.6zM1421.8 748.2l15.6 -15.6h6.6l15.6 15.6v6.6l-15.6 15.6h-6.6l-15.6 -15.6zM1429.2 748.2l15.6 -15.6h6.6l15.6 15.6v6.6l-15.6 15.6h-6.6l-15.6 -15.6zM1429.2 748.2l15.6 -15.6h6.6l15.6 15.6v6.6l-15.6 15.6h-6.6l-15.6 -15.6zM1436.7 748.2l15.6 -15.6h6.6l15.6 15.6v6.6l-15.6 15.6h-6.6l-15.6 -15.6zM1444.2 748.2l15.6 -15.6h6.6l15.6 15.6v6.6l-15.6 15.6h-6.6l-15.6 -15.6zM1451.7 748.2l15.6 -15.6h6.6l15.6 15.6v6.6l-15.6 15.6h-6.6l-15.6 -15.6zM1451.7 748.2l15.6 -15.6h6.6l15.6 15.6v6.6l-15.6 15.6h-6.6l-15.6 -15.6zM1459.1 748.2l15.6 -15.6h6.6l15.6 15.6v6.6l-15.6 15.6h-6.6l-15.6 -15.6zM1466.6 748.2l15.6 -15.6h6.6l15.6 15.6v6.6l-15.6 15.6h-6.6l-15.6 -15.6zM1474.1 748.2l15.6 -15.6h6.6l15.6 15.6v6.6l-15.6 15.6h-6.6l-15.6 -15.6zM1474.1 748.2l15.6 -15.6h6.6l15.6 15.6v6.6l-15.6 15.6h-6.6l-15.6 -15.6zM1481.5 748.2l15.6 -15.6h6.6l15.6 15.6v6.6l-15.6 15.6h-6.6l-15.6 -15.6zM1489 740.7l15.6 -15.6h6.6l15.6 15.6v6.6l-15.6 15.6h-6.6l-15.6 -15.6zM1496.5 740.7l15.6 -15.6h6.6l15.6 15.6v6.6l-15.6 15.6h-6.6l-15.6 -15.6zM1496.5 740.7l15.6 -15.6h6.6l15.6 15.6v6.6l-15.6 15.6h-6.6l-15.6 -15.6zM1504 740.7l15.6 -15.6h6.6l15.6 15.6v6.6l-15.6 15.6h-6.6l-15.6 -15.6zM1511.4 740.7l15.6 -15.6h6.6l15.6 15.6v6.6l-15.6 15.6h-6.6l-15.6 -15.6zM1518.9 740.7l15.6 -15.6h6.6l15.6 15.6v6.6l-15.6 15.6h-6.6l-15.6 -15.6zM1518.9 740.7l15.6 -15.6h6.6l15.6 15.6v6.6l-15.6 15.6h-6.6l-15.6 -15.6zM1526.4 740.7l15.6 -15.6h6.6l15.6 15.6v6.6l-15.6 15.6h-6.6l-15.6 -15.6zM1533.8 740.7l15.6 -15.6h6.6l15.6 15.6v6.6l-15.6 15.6h-6.6l-15.6 -15.6zM1541.3 740.7l15.6 -15.6h6.6l15.6 15.6v6.6l-15.6 15.6h-6.6l-15.6 -15.6zM1541.3 740.7l15.6 -15.6h6.6l15.6 15.6v6.6l-15.6 15.6h-6.6l-15.6 -15.6zM1548.8 740.7l15.6 -15.6h6.6l15.6 15.6v6.6l-15.6 15.6h-6.6l-15.6 -15.6zM1556.3 740.7l15.6 -15.6h6.6l15.6 15.6v6.6l-15.6 15.6h-6.6l-15.6 -15.6zM1563.7 740.7l15.6 -15.6h6.6l15.6 15.6v6.6l-15.6 15.6h-6.6l-15.6 -15.6zM1563.7 740.7l15.6 -15.6h6.6l15.6 15.6v6.6l-15.6 15.6h-6.6l-15.6 -15.6zM1571.2 740.7l15.6 -15.6h6.6l15.6 15.6v6.6l-15.6 15.6h-6.6l-15.6 -15.6zM1578.7 740.7l15.6 -15.6h6.6l15.6 15.6v6.6l-15.6 15.6h-6.6l-15.6 -15.6zM1586.2 740.7l15.6 -15.6h6.6l15.6 15.6v6.6l-15.6 15.6h-6.6l-15.6 -15.6zM1586.2 740.7l15.6 -15.6h6.6l15.6 15.6v6.6l-15.6 15.6h-6.6l-15.6 -15.6zM1593.6 740.7l15.6 -15.6h6.6l15.6 15.6v6.6l-15.6 15.6h-6.6l-15.6 -15.6zM1601.1 740.7l15.6 -15.6h6.6l15.6 15.6v6.6l-15.6 15.6h-6.6l-15.6 -15.6zM1608.6 740.7l15.6 -15.6h6.6l15.6 15.6v6.6l-15.6 15.6h-6.6l-15.6 -15.6zM1608.6 740.7l15.6 -15.6h6.6l15.6 15.6v6.6l-15.6 15.6h-6.6l-15.6 -15.6zM1616 740.7l15.6 -15.6h6.6l15.6 15.6v6.6l-15.6 15.6h-6.6l-15.6 -15.6zM1623.5 740.7l15.6 -15.6h6.6l15.6 15.6v6.6l-15.6 15.6h-6.6l-15.6 -15.6z" fill="#f00"/>
<polyline points="192.9,744 446.9,744 454.4,736.5 529.1,736.5 536.6,729.1 559,729.1 566.5,721.6 581.4,721.6 588.9,714.2 596.4,714.2 603.9,706.7 611.3,706.7 618.8,699.2 626.3,691.8 633.7,684.3 641.2,684.3 641.2,676.9 648.7,669.4 656.2,661.9 663.6,654.5 663.6,647 671.1,632.1 678.6,624.6 686,609.7 686,594.8 693.5,587.3 701,572.4 708.5,550 708.5,535.1 715.9,520.2 723.4,497.8 730.9,482.9 730.9,460.5 738.3,445.6 745.8,423.2 753.3,400.8 753.3,385.9 760.8,363.5 768.2,348.6 775.7,326.2 775.7,311.3 783.2,296.4 790.7,288.9 798.1,274 798.1,266.6 805.6,259.1 828,259.1 835.5,266.6 843,281.5 843,288.9 850.4,303.9 857.9,318.8 865.4,333.7 865.4,348.6 872.8,363.5 880.3,385.9 887.8,400.8 887.8,423.2 895.3,438.1 902.7,460.5 910.2,475.4 910.2,490.4 917.7,505.3 925.1,520.2 932.6,535.1 932.6,550 940.1,565 947.6,579.9 955,587.3 955,602.3 962.5,609.7 970,617.2 977.5,624.6 977.5,632.1 984.9,639.6 992.4,647 999.9,654.5 1007.3,661.9 1014.8,669.4 1022.3,669.4 1022.3,676.9 1029.8,676.9 1037.2,684.3 1044.7,684.3 1044.7,691.8 1052.2,691.8 1059.6,699.2 1067.1,699.2 1067.1,706.7 1074.6,706.7 1082.1,714.2 1089.5,714.2 1097,721.6 1111.9,721.6 1111.9,729.1 1134.4,729.1 1134.4,736.5 1171.7,736.5 1179.2,744 1268.9,744 1276.3,751.5 1500.5,751.5 1508,744 1642.5,744" fill="none" stroke="#000" stroke-width="8" stroke-linejoin="miter" stroke-miterlimit="10"/>
<polyline points="192.9,751.5 1642.5,751.5" fill="none" stroke="#f00" stroke-width="8" stroke-linejoin="miter" stroke-miterlimit="10"/>
<polyline points="192.9,744 476.8,744 484.3,736.5 559,736.5 566.5,729.1 581.4,729.1 588.9,721.6 596.4,721.6 603.9,714.2 618.8,714.2 618.8,706.7 626.3,706.7 633.7,699.2 641.2,699.2 641.2,691.8 648.7,684.3 656.2,676.9 663.6,669.4 663.6,661.9 671.1,654.5 678.6,639.6 686,632.1 686,617.2 693.5,602.3 701,587.3 708.5,572.4 708.5,557.5 715.9,535.1 723.4,520.2 730.9,497.8 730.9,475.4 738.3,460.5 745.8,438.1 753.3,415.8 753.3,393.4 760.8,378.5 768.2,356.1 775.7,341.2 775.7,326.2 783.2,311.3 790.7,296.4 798.1,281.5 798.1,274 805.6,266.6 820.5,266.6 828,274 835.5,281.5 843,288.9 843,303.9 850.4,318.8 857.9,333.7 865.4,348.6 865.4,363.5 872.8,385.9 880.3,408.3 887.8,423.2 887.8,445.6 895.3,468 902.7,482.9 910.2,505.3 910.2,520.2 917.7,542.6 925.1,557.5 932.6,572.4 932.6,587.3 940.1,602.3 947.6,617.2 955,632.1 955,639.6 962.5,654.5 970,661.9 977.5,669.4 977.5,684.3 984.9,691.8 992.4,691.8 999.9,699.2 999.9,706.7 1007.3,714.2 1014.8,714.2 1022.3,721.6 1029.8,721.6 1037.2,729.1 1044.7,729.1 1052.2,736.5 1089.5,736.5 1089.5,744 1231.5,744 1239,751.5 1642.5,751.5" fill="none" stroke="#f00" stroke-width="8" stroke-linejoin="miter" stroke-miterlimit="10"/>
<polyline points="476.8,751.5 559,751.5 566.5,744 641.2,744 641.2,736.5 730.9,736.5 738.3,744 798.1,744 805.6,751.5 1209.1,751.5" fill="none" stroke="#f00" stroke-width="8" stroke-linejoin="miter" stroke-miterlimit="10"/>
<polyline points="476.8,751.5 820.5,751.5 828,744 850.4,744 857.9,736.5 887.8,736.5 895.3,729.1 910.2,729.1 917.7,721.6 932.6,721.6 940.1,714.2 955,714.2 962.5,706.7 1022.3,706.7 1022.3,714.2 1037.2,714.2 1044.7,721.6 1052.2,729.1 1059.6,729.1 1067.1,736.5 1104.5,736.5 1111.9,744 1149.3,744 1156.8,751.5 1209.1,751.5" fill="none" stroke="#f00" stroke-width="8" stroke-linejoin="miter" stroke-miterlimit="10"/>
</g>
<rect x="666.1" y="542" width="8.9" height="1025.7" fill="#000"/>
<rect x="808" y="199" width="9" height="1263.5" fill="#000"/>
<rect x="987.8" y="550" width="8.4" height="1017.7" fill="#000"/>
<rect x="154" y="17" width="1514" height="7.8" fill="#000"/>
<rect x="151" y="28" width="8" height="1584" fill="#000"/>
<rect x="1660.3" y="28" width="7.7" height="1592" fill="#000"/>
<rect x="154" y="1612" width="1514" height="8" fill="#000"/>
<rect x="181" y="1619" width="9" height="23" fill="#000"/>
<rect x="241" y="1619" width="8" height="23" fill="#000"/>
<rect x="293" y="1619" width="9" height="52" fill="#000"/>
<rect x="345" y="1619" width="9" height="23" fill="#000"/>
<rect x="405" y="1619" width="9" height="23" fill="#000"/>
<rect x="465" y="1619" width="8" height="23" fill="#000"/>
<rect x="517" y="1619" width="9" height="23" fill="#000"/>
<rect x="569" y="1619" width="9" height="23" fill="#000"/>
<rect x="629" y="1619" width="9" height="23" fill="#000"/>
<rect x="689" y="1619" width="8" height="23" fill="#000"/>
<rect x="741" y="1619" width="9" height="52" fill="#000"/>
<rect x="793" y="1619" width="9" height="23" fill="#000"/>
<rect x="853" y="1619" width="9" height="23" fill="#000"/>
<rect x="913" y="1619" width="8" height="23" fill="#000"/>
<rect x="966" y="1619" width="8" height="23" fill="#000"/>
<rect x="1018" y="1619" width="8" height="23" fill="#000"/>
<rect x="1078" y="1619" width="8" height="23" fill="#000"/>
<rect x="1137" y="1619" width="8" height="23" fill="#000"/>
<rect x="1190" y="1619" width="8" height="52" fill="#000"/>
<rect x="1242" y="1619" width="8" height="23" fill="#000"/>
<rect x="1302" y="1619" width="8" height="23" fill="#000"/>
<rect x="1361" y="1619" width="8" height="23" fill="#000"/>
<rect x="1414" y="1619" width="8" height="23" fill="#000"/>
<rect x="1466" y="1619" width="8" height="23" fill="#000"/>
<rect x="1526" y="1619" width="8" height="23" fill="#000"/>
<rect x="1585" y="1619" width="8" height="23" fill="#000"/>
<rect x="1638" y="1619" width="8" height="52" fill="#000"/>
<rect x="1118" y="106" width="131" height="8" fill="#f00"/>
<polygon points="1150.7,106.9 1182.8,74 1190,74 1222.1,106.9 1222.1,114.1 1190,146.9 1182.8,146.9 1150.7,114.1" fill="#f00"/>
<rect x="1118" y="203.6" width="131" height="8" fill="#00f"/>
<polygon points="1150.7,203.7 1182.8,170.9 1190,170.9 1222.1,203.7 1222.1,210.9 1190,243.8 1182.8,243.8 1150.7,210.9" fill="#00f"/>
<rect x="1118" y="299.8" width="131" height="8" fill="#000"/>
<polygon points="1150.7,300.6 1182.8,267.8 1190,267.8 1222.1,300.6 1222.1,307.8 1190,340.6 1182.8,340.6 1150.7,307.8" fill="#000"/>
</g>
<text x="241.904 308.233 334.063 393.795" y="147.8" font-size="81" transform="scale(0.86,1)" stroke="#000" stroke-width="1.3" stroke-linejoin="round">O 1s</text>
<text x="1440.32 1495.833 1557.871 1611.32 1665.756 1715.809" y="140.2" font-size="81" transform="scale(0.9,1)" stroke="#000" stroke-width="1.3" stroke-linejoin="round">V10APO</text>
<text x="1440.32 1502.33 1553.685 1583.23 1636.82 1691.312 1740.865" y="237.2" font-size="81" transform="scale(0.9,1)" stroke="#000" stroke-width="1.3" stroke-linejoin="round">V7.5APO</text>
<text x="1440.32 1502.73 1555.709 1611.09 1660.198" y="333.7" font-size="81" transform="scale(0.9,1)" stroke="#000" stroke-width="1.3" stroke-linejoin="round">V5APO</text>
<text x="239.999 292.29 346.704" y="1772.6" font-size="82" transform="scale(0.94,1)" stroke="#000" stroke-width="1.3" stroke-linejoin="round">536</text>
<text x="717.446 769.418 823.374" y="1772.6" font-size="82" transform="scale(0.94,1)" stroke="#000" stroke-width="1.3" stroke-linejoin="round">532</text>
<text x="1194.095 1246.832 1300.183" y="1772.6" font-size="82" transform="scale(0.94,1)" stroke="#000" stroke-width="1.3" stroke-linejoin="round">528</text>
<text x="1670.903 1723.534 1777.131" y="1772.6" font-size="82" transform="scale(0.94,1)" stroke="#000" stroke-width="1.3" stroke-linejoin="round">524</text>
<text font-size="81" transform="scale(0.891,1)" stroke="#000" stroke-width="1.3" stroke-linejoin="round"><tspan x="894.962" y="154.6">O</tspan><tspan x="957.779 994.494" y="95.5" font-size="57">2-</tspan></text>
<text font-size="81" transform="scale(0.907,1)" stroke="#000" stroke-width="1.3" stroke-linejoin="round"><tspan x="615.003 676.397" y="520.5">OH</tspan><tspan x="733.012" y="461.8" font-size="57">-</tspan></text>
<text font-size="81" transform="scale(0.939,1)" stroke="#000" stroke-width="1.3" stroke-linejoin="round"><tspan x="1050.676 1104.421" y="505.3">VO</tspan><tspan x="1169.042" y="520.5" font-size="54.5">x</tspan></text>
<text x="539.123 590.046 606.611 650.151 694.43 710.699 754.683 799.735 822.298 866.019 908.012 952.843 979.658 1026.114 1068.732 1093.398 1123.53 1166.501 1224.721" y="1876.6" font-size="80.8" transform="scale(1.015,1)" stroke="#000" stroke-width="0.9" stroke-linejoin="round">Binding energy (eV)</text>
<text x="-1.724 50.592 102.37" y="0" font-size="82.5" transform="translate(80.8,1131.1) rotate(-90) scale(0.86,1)" stroke="#000" stroke-width="1.3" stroke-linejoin="round">XPS</text>
<text x="150.239 166.238 213.636 238.783 280.217 321.106 359.447 380.383 408.147 449.848 473.597 499.743 542.729 563.36 606.374 631.653" y="0" font-size="80.8" transform="translate(81.3,1131.1) rotate(-90) scale(1.048,1)" stroke="#000" stroke-width="0.9" stroke-linejoin="round">intensity (a.u.)</text>
</svg>
</body></html>
